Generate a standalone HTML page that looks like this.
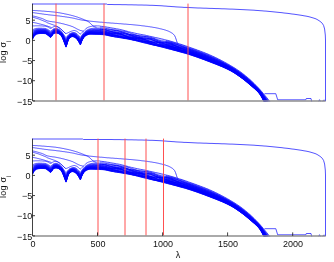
<!DOCTYPE html>
<html><head><meta charset="utf-8"><style>
html,body{margin:0;padding:0;background:#fff;}
svg{display:block;font-family:"Liberation Sans",sans-serif;font-size:9px;fill:#111;}
path{fill:none;}
.b{stroke:#0000ff;stroke-width:0.75;stroke-opacity:0.9;}
.bb path{stroke:#0000ff;stroke-width:0.65;}
.r{stroke:#ff5050;stroke-width:1;}
.ax{stroke:#111;stroke-width:0.8;}
.axb{stroke:#8e8e8e;stroke-width:1.4;}
</style></head><body>
<svg width="334" height="262" viewBox="0 0 334 262">
<defs>
<clipPath id="cp"><rect x="32" y="3" width="294.2" height="98.6"/></clipPath>
<g id="pl">
<g clip-path="url(#cp)">
<path d="M108 4.5L110 4.5L112 4.5L114 4.6L116 4.6L118 4.6L120 4.6L122 4.7L124 4.7L126 4.7L128 4.8L130 4.8L132 4.8L134 4.9L136 4.9L138 5.0L140 5.0L142 5.0L144 5.1L146 5.1L148 5.2L150 5.3L152 5.3L154 5.4L156 5.5L158 5.6L160 5.7L162 5.8L164 6.0L166 6.1L168 6.3L170 6.4L172 6.6L174 6.7L176 6.9L178 7.0L180 7.1L182 7.2L184 7.4L186 7.4L188 7.5L190 7.6L192 7.7L194 7.8L196 7.9L198 8.0L200 8.0L202 8.1L204 8.2L206 8.2L208 8.3L210 8.4L212 8.4L214 8.5L216 8.6L218 8.6L220 8.7L222 8.8L224 8.8L226 8.9L228 9.0L230 9.1L232 9.1L234 9.2L236 9.3L238 9.4L240 9.5L242 9.6L244 9.7L246 9.8L248 9.9L250 10.0L252 10.1L254 10.2L256 10.4L258 10.5L260 10.7L262 10.8L264 11.0L266 11.1L268 11.3L270 11.5L272 11.7L274 11.9L276 12.1L278 12.3L280 12.5L282 12.7L284 13.0L286 13.2L288 13.4L290 13.7L292 14.0L294 14.2L296 14.5L298 14.8L300 15.1L302 15.4L304 15.8L306 16.1L308 16.5L310 17.0L312 17.6L314 18.2L316 18.9L318 20.0L320 21.3L322.2 23.2L323.6 25.5L324.6 29L325.3 35L325.5 40L325.5 101.3" class="b"/>
<path d="M32.5 10.4L33.5 10.5L34.5 10.5L35.5 10.6L36.5 10.6L37.5 10.7L38.5 10.8L39.5 10.8L40.5 10.9L41.5 11.0L42.5 11.1L43.5 11.1L44.5 11.2L45.5 11.3L46.5 11.4L47.5 11.5L48.5 11.5L49.5 11.6L50.5 11.7L51.5 11.8L52.5 11.9L53.5 12.0L54.5 12.1L55.5 12.2L56.5 12.4L57.5 12.5L58.5 12.7L59.5 12.8L60.5 13.0L61.5 13.2L62.5 13.4L63.5 13.5L64.5 13.8L65.5 14.0L66.5 14.2L67.5 14.4L68.5 14.6L69.5 14.9L70.5 15.1L71.5 15.4L72.5 15.6L73.5 15.9L74.5 16.2L75.5 16.5L76.5 16.8L77.5 17.1L78.5 17.5L79.5 17.9L80.5 18.2L81.5 18.6L82.5 19.0L83.5 19.4L84.5 19.8L85.5 20.2L86.5 20.7L87.5 21.2L88.5 21.8L89.5 22.6L90.5 23.5L91.5 24.5L92.5 25.4L93.5 26.2L94.5 26.7L95.5 27.0L96.5 27.2" class="b"/>
<path d="M32.5 12.5L33.5 12.7L34.5 12.8L35.5 13.0L36.5 13.1L37.5 13.3L38.5 13.4L39.5 13.6L40.5 13.7L41.5 13.8L42.5 14.0L43.5 14.1L44.5 14.3L45.5 14.4L46.5 14.5L47.5 14.6L48.5 14.8L49.5 14.9L50.5 15.0L51.5 15.1L52.5 15.2L53.5 15.3L54.5 15.4L55.5 15.5L56.5 15.7L57.5 15.8L58.5 15.9L59.5 16.0L60.5 16.2L61.5 16.3L62.5 16.5L63.5 16.6L64.5 16.7L65.5 16.9L66.5 17.0L67.5 17.2L68.5 17.3L69.5 17.5L70.5 17.7L71.5 17.8L72.5 18.0L73.5 18.2L74.5 18.4L75.5 18.7L76.5 18.9L77.5 19.2L78.5 19.4L79.5 19.6L80.5 19.8L81.5 20.0L82.5 20.2L83.5 20.3L84.5 20.5L85.5 20.6L86.5 20.7L87.5 20.8L88.5 20.9L89.5 21.1L90.5 21.2L91.5 21.3L92.5 21.4L93.5 21.5L94.5 21.6L95.5 21.7L96.5 21.8L97.5 21.9L98.5 22.0L99.5 22.1L100.5 22.2L101.5 22.2L102.5 22.3L103.5 22.4L104.5 22.5L105.5 22.6L106.5 22.7L107.5 22.8L108.5 22.8L109.5 22.9L110.5 23.0L111.5 23.1L112.5 23.1L113.5 23.2L114.5 23.3L115.5 23.4L116.5 23.4L117.5 23.5L118.5 23.6L119.5 23.7L120.5 23.7L121.5 23.8L122.5 23.9L123.5 24.0L124.5 24.1L125.5 24.1L126.5 24.2L127.5 24.3L128.5 24.4L129.5 24.5L130.5 24.5L131.5 24.6L132.5 24.7L133.5 24.8L134.5 24.9L135.5 25.0L136.5 25.1L137.5 25.2L138.5 25.3L139.5 25.4L140.5 25.5L141.5 25.7L142.5 25.8L143.5 25.9L144.5 26.0L145.5 26.2L146.5 26.3L147.5 26.4L148.5 26.6L149.5 26.7L150.5 26.9L151.5 27.0L152.5 27.2L153.5 27.4L154.5 27.5L155.5 27.7L156.5 27.9L157.5 28.1L158.5 28.3L159.5 28.6L160.5 28.8L161.5 29.0L162.5 29.3L163.5 29.5L164.5 29.8L165.5 30.1L166.5 30.5L167.5 30.8L168.5 31.2L169.5 31.7L170.5 32.2L171.5 32.8L172.5 33.4L173.5 34.3L174.5 35.4L175.5 37.5L176.5 40.5L177.5 43.7" class="b"/>
<path d="M32.5 15.9L33.5 16.1L34.5 16.3L35.5 16.6L36.5 16.8L37.5 17.1L38.5 17.4L39.5 17.7L40.5 18.0L41.5 18.3L42.5 18.7L43.5 19.1L44.5 19.6L45.5 20.1L46.5 20.5L47.5 20.9L48.5 21.1L49.5 21.3L50.5 21.5L51.5 21.6L52.5 21.8L53.5 21.9L54.5 22.0L55.5 22.2L56.5 22.4L57.5 22.6L58.5 22.8L59.5 23.0L60.5 23.2L61.5 23.5L62.5 23.7L63.5 23.9L64.5 24.2L65.5 24.5L66.5 24.7L67.5 25.0L68.5 25.3L69.5 25.6L70.5 25.9L71.5 26.3L72.5 26.6L73.5 27.1L74.5 27.6L75.5 28.1L76.5 28.7L77.5 29.2L78.5 29.7L79.5 30.1L80.5 30.5L81.5 30.7L82.5 31.0L83.5 31.2" class="b"/>
<path d="M32.5 17.2L33.5 17.4L34.5 17.7L35.5 18.0L36.5 18.3L37.5 18.6L38.5 18.9L39.5 19.3L40.5 19.7L41.5 20.1L42.5 20.5L43.5 20.9L44.5 21.3L45.5 21.7L46.5 22.2L47.5 22.8L48.5 23.2L49.5 23.6L50.5 23.9L51.5 24.3L52.5 24.6L53.5 25.0L54.5 25.3L55.5 25.8L56.5 26.3L57.5 26.8L58.5 27.5L59.5 28.2L60.5 29.0L61.5 29.8L62.5 30.6L63.5 31.5L64.5 32.5L65.5 33.5" class="b"/>
<path d="M32.5 22.3L33.5 22.5L34.5 22.7L35.5 22.9L36.5 23.1L37.5 23.4L38.5 23.6L39.5 23.9L40.5 24.1L41.5 24.4L42.5 24.6L43.5 24.9L44.5 25.2L45.5 25.5L46.5 25.8L47.5 26.1L48.5 26.5L49.5 26.8L50.5 27.2L51.5 27.6" class="b"/>
<path d="M264.5 93.7L275.8 93.7L277.7 99.8L305.8 99.8L306.3 98.5L311 98.5L311.8 102M318.6 101.6L319.5 99.7L320.5 101.6M322.8 101.6L323.3 100.3L325.5 100.3" class="b"/>
<path d="M100 26.1L102 26.3L104 26.6L106 26.9L108 27.2L110 27.6L112 28.0L114 28.3L116 28.7L118 29.0L120 29.4L122 29.8L124 30.3L126 30.8L128 31.4L130 32.0L132 32.5L134 32.9L136 33.4L138 33.8L140 34.2L142 34.6L144 34.9L146 35.3L148 35.8L150 36.2L152 36.6L154 37.1L156 37.6L158 38.0L160 38.5L162 39.0L164 39.5L166 40.0L166 48.2L164 47.7L162 47.2L160 46.7L158 46.2L156 45.7L154 45.3L152 44.8L150 44.3L148 43.8L146 43.3L144 42.8L142 42.3L140 41.8L138 41.3L136 40.8L134 40.3L132 39.9L130 39.5L128 39.1L126 38.8L124 38.5L122 38.2L120 37.8L118 37.5L116 37.1L114 36.7L112 36.4L110 36.0L108 35.6L106 35.1L104 34.8L102 34.7L100 34.6Z" fill="#0000ff" fill-opacity="0.22" stroke="none" style="fill:#0000ff"/>
<path d="M166 40.0L168 40.5L170 41.0L172 41.6L174 42.1L176 42.7L178 43.4L180 44.0L182 44.6L184 45.3L186 46.0L188 46.7L190 47.4L192 48.1L194 48.8L196 49.5L198 50.3L200 51.0L202 51.8L204 52.5L206 53.3L208 54.1L210 55.0L212 55.9L214 56.8L216 57.8L218 58.7L220 59.7L222 60.8L224 61.9L226 62.9L228 64.1L230 65.2L232 66.4L234 67.6L236 68.9L238 70.2L240 71.6L242 73.1L244 74.6L246 76.2L248 77.9L250 79.6L252 81.4L254 83.4L256 85.4L258 87.4L260 89.6L262 91.9L264 94.3L266 96.7L268 99.2L270 101.8L272 104.5L272 118.6L270 114.4L268 110.2L266 106.0L264 101.8L262 97.8L260 94.5L258 92.1L256 90.1L254 88.3L252 86.6L250 84.9L248 83.2L246 81.5L244 79.9L242 78.4L240 76.9L238 75.5L236 74.1L234 72.8L232 71.6L230 70.5L228 69.5L226 68.5L224 67.6L222 66.7L220 65.9L218 65.1L216 64.3L214 63.5L212 62.8L210 62.0L208 61.2L206 60.5L204 59.7L202 59.0L200 58.3L198 57.5L196 56.8L194 56.2L192 55.5L190 54.8L188 54.2L186 53.6L184 53.0L182 52.5L180 51.9L178 51.3L176 50.8L174 50.3L172 49.7L170 49.2L168 48.7L166 48.2Z" fill="#0000ff" fill-opacity="0.6" stroke="none" style="fill:#0000ff"/>
<g class="bb">
<path d="M32.5 26.0L33 26.0L33.5 25.9L34 25.9L34.5 25.9L35 25.9L35.5 25.8L36 25.8L36.5 25.8L37 25.8L37.5 25.8L38 25.8L38.5 25.8L39 25.8L39.5 25.8L40 25.8L40.5 25.9L41 25.9L41.5 25.9L42 25.9L42.5 26.0L43 26.0L43.5 26.1L44 26.1L44.5 26.1L45 26.2L45.5 26.3L46 26.4L46.5 26.5L47 26.7L47.5 26.8L48 27.0L48.5 27.3L49 27.6L49.5 28.0L50 28.3L50.5 28.4L51 28.3L51.5 28.0L52 27.6L52.5 27.3L53 27.0L53.5 26.8L54 26.7L54.5 26.5L55 26.4L55.5 26.3L56 26.3L56.5 26.4L57 26.5L57.5 26.7L58 26.9L58.5 27.2L59 27.5L59.5 27.8L60 28.2L60.5 28.6L61 29.1L61.5 29.5L62 30.0L62.5 30.5L63 31.0L63.5 31.6L64 32.1L64.5 32.5L65 32.9L65.5 33.3L66 33.5L66.5 33.4L67 33.2L67.5 33.0L68 32.8L68.5 32.5L69 32.2L69.5 32.0L70 31.7L70.5 31.5L71 31.3L71.5 31.2L72 31.0L72.5 30.9L73 30.7L73.5 30.6L74 30.5L74.5 30.5L75 30.6L75.5 30.8L76 31.0L76.5 31.2L77 31.5L77.5 31.8L78 32.2L78.5 32.6L79 33.1L79.5 33.6L80 33.9L80.4 34.0L80.5 34.0L81 33.6L81.5 33.1L82 32.6L82.5 32.1L83 31.6L83.5 31.1L84 30.5L84.5 30.0L85 29.5L85.5 29.1L86 28.6L86.5 28.2L87 27.9L87.5 27.6L88 27.4L88.5 27.1L89 26.9L89.5 26.8L90 26.6L90.5 26.5L91 26.4L91.5 26.3L92 26.2L92.5 26.1L93 26.0L93.5 26.0L94 25.9L94.5 25.9L95 25.8L95.5 25.8L96 25.8L96.5 25.8L97 25.8L97.5 25.9L98 25.9L98.5 25.9L99 26.0L99.5 26.0L100 26.1L101.5 26.3L103 26.5L104.5 26.7L106 26.9L107.5 27.2L109 27.4L110.5 27.7L112 28.0L113.5 28.2L115 28.5L116.5 28.8L118 29.0L119.5 29.3L121 29.7L122.5 30.0L124 30.4L125.5 30.8L127 31.2L128.5 31.7L130 32.0L131.5 32.4L133 32.7L134.5 33.0L136 33.4L137.5 33.7L139 34.0L140.5 34.3L142 34.6L143.5 34.8L145 35.1L146.5 35.5L148 35.8L149.5 36.2L151 36.5L152.5 36.8L154 37.2L155.5 37.5L157 37.8L158.5 38.1L160 38.5L161.5 38.8L163 39.2L164.5 39.6L166 40.0L167.5 40.3L169 40.7L170.5 41.1L172 41.6L173.5 42.0L175 42.5L176.5 42.9L178 43.4L179.5 43.9L181 44.3L182.5 44.8L184 45.3L185.5 45.8L187 46.3L188.5 46.9L190 47.4L191.5 47.9L193 48.5L194.5 49.0L196 49.5L197.5 50.1L199 50.6L200.5 51.2L202 51.8L203.5 52.3L205 52.9L206.5 53.5L208 54.1L209.5 54.8L211 55.4L212.5 56.1L214 56.8L215.5 57.5L217 58.2L218.5 59.0L220 59.7L221.5 60.5L223 61.3L224.5 62.1L226 62.9L227.5 63.8L229 64.6L230.5 65.5L232 66.4L233.5 67.3L235 68.2L236.5 69.2L238 70.2L239.5 71.2L241 72.3L242.5 73.4L244 74.6L245.5 75.8L247 77.0L248.5 78.3L250 79.6L251.5 81.0L253 82.4L254.5 83.8L256 85.4L257.5 86.9L259 88.5L260.5 90.2L262 91.9L263.5 93.7L265 95.5L266.5 97.3L268 99.2L269.5 101.1L271 103.1"/>
<path d="M32.5 30.0L33 29.7L33.5 29.4L34 29.1L34.5 28.9L35 28.7L35.5 28.6L36 28.5L36.5 28.4L37 28.3L37.5 28.3L38 28.2L38.5 28.2L39 28.2L39.5 28.2L40 28.2L40.5 28.2L41 28.2L41.5 28.2L42 28.2L42.5 28.3L43 28.3L43.5 28.3L44 28.4L44.5 28.4L45 28.4L45.5 28.5L46 28.7L46.5 28.9L47 29.1L47.5 29.3L48 29.5L48.5 29.9L49 30.2L49.5 30.6L50 31.0L50.5 31.2L51 31.0L51.5 30.6L52 30.1L52.5 29.6L53 29.2L53.5 28.9L54 28.7L54.5 28.6L55 28.4L55.5 28.4L56 28.3L56.5 28.4L57 28.5L57.5 28.7L58 28.9L58.5 29.2L59 29.4L59.5 29.7L60 30.1L60.5 30.6L61 31.0L61.5 31.6L62 32.1L62.5 32.8L63 33.5L63.5 34.3L64 35.0L64.5 35.7L65 36.4L65.5 37.1L66 37.7L66.5 37.2L67 36.5L67.5 35.9L68 35.2L68.5 34.7L69 34.2L69.5 33.8L70 33.5L70.5 33.3L71 33.1L71.5 32.9L72 32.7L72.5 32.6L73 32.5L73.5 32.5L74 32.5L74.5 32.5L75 32.7L75.5 32.9L76 33.2L76.5 33.5L77 33.9L77.5 34.3L78 34.8L78.5 35.3L79 35.9L79.5 36.5L80 37.0L80.4 37.3L80.5 37.2L81 36.5L81.5 35.7L82 35.1L82.5 34.4L83 33.8L83.5 33.2L84 32.6L84.5 32.0L85 31.5L85.5 31.1L86 30.7L86.5 30.4L87 30.1L87.5 29.8L88 29.6L88.5 29.3L89 29.1L89.5 29.0L90 28.8L90.5 28.7L91 28.6L91.5 28.5L92 28.4L92.5 28.4L93 28.3L93.5 28.2L94 28.2L94.5 28.1L95 28.1L95.5 28.0L96 28.0L96.5 28.0L97 28.0L97.5 28.0L98 28.0L98.5 28.0L99 28.0L99.5 28.0L100 28.0L101.5 28.0L103 28.1L104.5 28.2L106 28.4L107.5 28.7L109 29.0L110.5 29.4L112 29.8L113.5 30.2L115 30.6L116.5 30.8L118 30.9L119.5 31.0L121 31.1L122.5 31.2L124 31.3L125.5 31.6L127 32.0L128.5 32.5L130 33.0L131.5 33.6L133 34.1L134.5 34.6L136 35.1L137.5 35.5L139 35.8L140.5 36.0L142 36.2L143.5 36.3L145 36.4L146.5 36.5L148 36.7L149.5 37.0L151 37.3L152.5 37.8L154 38.3L155.5 38.9L157 39.5L158.5 40.0L160 40.5L161.5 40.9L163 41.1L164.5 41.4L166 41.6L167.5 41.8L169 42.0L170.5 42.3L172 42.7L173.5 43.1L175 43.6L176.5 44.2L178 44.7L179.5 45.3L181 45.8L182.5 46.4L184 46.9L185.5 47.3L187 47.8L188.5 48.3L190 48.7L191.5 49.2L193 49.8L194.5 50.3L196 50.8L197.5 51.4L199 51.9L200.5 52.5L202 53.0L203.5 53.6L205 54.2L206.5 54.8L208 55.4L209.5 56.0L211 56.7L212.5 57.3L214 58.0L215.5 58.7L217 59.4L218.5 60.1L220 60.8L221.5 61.6L223 62.4L224.5 63.1L226 63.9L227.5 64.8L229 65.6L230.5 66.4L232 67.3L233.5 68.2L235 69.2L236.5 70.1L238 71.1L239.5 72.2L241 73.3L242.5 74.4L244 75.5L245.5 76.7L247 78.0L248.5 79.2L250 80.5L251.5 81.9L253 83.3L254.5 84.7L256 86.2L257.5 87.7L259 89.4L260.5 91.1L262 92.9L263.5 94.9L265 97.0L266.5 99.1L268 101.2L269.5 103.3L271 105.5"/>
<path d="M32.5 31.3L33 30.8L33.5 30.4L34 30.1L34.5 29.8L35 29.6L35.5 29.4L36 29.2L36.5 29.1L37 29.0L37.5 29.0L38 29.0L38.5 28.9L39 28.9L39.5 28.9L40 28.9L40.5 28.9L41 28.9L41.5 28.9L42 28.9L42.5 29.0L43 29.0L43.5 29.0L44 29.0L44.5 29.1L45 29.1L45.5 29.2L46 29.4L46.5 29.6L47 29.8L47.5 30.1L48 30.3L48.5 30.6L49 31.0L49.5 31.4L50 31.8L50.5 32.0L51 31.8L51.5 31.4L52 30.9L52.5 30.3L53 29.9L53.5 29.5L54 29.3L54.5 29.2L55 29.1L55.5 29.0L56 28.9L56.5 29.0L57 29.1L57.5 29.3L58 29.5L58.5 29.7L59 30.0L59.5 30.3L60 30.7L60.5 31.1L61 31.6L61.5 32.2L62 32.8L62.5 33.5L63 34.2L63.5 35.1L64 35.9L64.5 36.7L65 37.5L65.5 38.3L66 38.9L66.5 38.3L67 37.6L67.5 36.7L68 35.9L68.5 35.4L69 34.8L69.5 34.4L70 34.1L70.5 33.8L71 33.6L71.5 33.4L72 33.2L72.5 33.1L73 33.1L73.5 33.0L74 33.1L74.5 33.2L75 33.3L75.5 33.6L76 33.9L76.5 34.2L77 34.6L77.5 35.1L78 35.6L78.5 36.1L79 36.8L79.5 37.4L80 38.0L80.4 38.3L80.5 38.2L81 37.4L81.5 36.5L82 35.8L82.5 35.1L83 34.4L83.5 33.8L84 33.2L84.5 32.6L85 32.2L85.5 31.7L86 31.4L86.5 31.0L87 30.7L87.5 30.4L88 30.2L88.5 30.0L89 29.8L89.5 29.6L90 29.5L90.5 29.4L91 29.3L91.5 29.2L92 29.2L92.5 29.1L93 29.0L93.5 29.0L94 28.9L94.5 28.9L95 28.8L95.5 28.8L96 28.8L96.5 28.8L97 28.8L97.5 28.8L98 28.8L98.5 28.9L99 28.9L99.5 29.0L100 29.0L101.5 29.1L103 29.3L104.5 29.4L106 29.5L107.5 29.6L109 29.7L110.5 29.8L112 29.8L113.5 29.8L115 30.0L116.5 30.2L118 30.6L119.5 31.0L121 31.4L122.5 31.9L124 32.5L125.5 33.0L127 33.6L128.5 34.1L130 34.6L131.5 34.9L133 35.2L134.5 35.5L136 35.7L137.5 35.8L139 35.9L140.5 36.0L142 36.2L143.5 36.3L145 36.5L146.5 36.8L148 37.2L149.5 37.6L151 38.1L152.5 38.7L154 39.2L155.5 39.8L157 40.4L158.5 40.9L160 41.3L161.5 41.7L163 42.0L164.5 42.2L166 42.4L167.5 42.7L169 42.9L170.5 43.1L172 43.4L173.5 43.8L175 44.2L176.5 44.6L178 45.1L179.5 45.7L181 46.2L182.5 46.8L184 47.3L185.5 47.9L187 48.4L188.5 48.9L190 49.4L191.5 49.9L193 50.4L194.5 50.9L196 51.4L197.5 52.0L199 52.5L200.5 53.1L202 53.6L203.5 54.2L205 54.8L206.5 55.4L208 56.0L209.5 56.6L211 57.3L212.5 57.9L214 58.6L215.5 59.2L217 59.9L218.5 60.6L220 61.4L221.5 62.1L223 62.8L224.5 63.6L226 64.4L227.5 65.2L229 66.0L230.5 66.9L232 67.7L233.5 68.7L235 69.6L236.5 70.6L238 71.6L239.5 72.6L241 73.7L242.5 74.8L244 76.0L245.5 77.2L247 78.4L248.5 79.7L250 81.0L251.5 82.3L253 83.7L254.5 85.1L256 86.6L257.5 88.1L259 89.7L260.5 91.5L262 93.4L263.5 95.5L265 97.7L266.5 99.9L268 102.1L269.5 104.3L271 106.6"/>
<path d="M32.5 32.1L33 31.6L33.5 31.1L34 30.8L34.5 30.5L35 30.2L35.5 30.0L36 29.8L36.5 29.7L37 29.6L37.5 29.5L38 29.5L38.5 29.4L39 29.4L39.5 29.4L40 29.4L40.5 29.4L41 29.4L41.5 29.4L42 29.4L42.5 29.5L43 29.5L43.5 29.5L44 29.5L44.5 29.6L45 29.6L45.5 29.7L46 29.9L46.5 30.1L47 30.3L47.5 30.6L48 30.9L48.5 31.2L49 31.6L49.5 32.0L50 32.4L50.5 32.6L51 32.4L51.5 31.9L52 31.4L52.5 30.9L53 30.3L53.5 30.0L54 29.8L54.5 29.6L55 29.5L55.5 29.4L56 29.4L56.5 29.4L57 29.5L57.5 29.7L58 29.9L58.5 30.2L59 30.4L59.5 30.7L60 31.1L60.5 31.6L61 32.0L61.5 32.6L62 33.2L62.5 34.0L63 34.8L63.5 35.7L64 36.5L64.5 37.4L65 38.2L65.5 39.1L66 39.8L66.5 39.1L67 38.3L67.5 37.3L68 36.5L68.5 35.8L69 35.3L69.5 34.8L70 34.5L70.5 34.2L71 33.9L71.5 33.8L72 33.6L72.5 33.5L73 33.5L73.5 33.4L74 33.5L74.5 33.6L75 33.8L75.5 34.0L76 34.4L76.5 34.7L77 35.1L77.5 35.6L78 36.1L78.5 36.7L79 37.4L79.5 38.0L80 38.7L80.4 39.1L80.5 38.9L81 38.0L81.5 37.1L82 36.3L82.5 35.6L83 34.9L83.5 34.3L84 33.7L84.5 33.1L85 32.6L85.5 32.2L86 31.8L86.5 31.5L87 31.2L87.5 30.9L88 30.7L88.5 30.5L89 30.3L89.5 30.1L90 30.0L90.5 29.9L91 29.8L91.5 29.8L92 29.7L92.5 29.6L93 29.6L93.5 29.5L94 29.5L94.5 29.4L95 29.4L95.5 29.4L96 29.3L96.5 29.3L97 29.3L97.5 29.3L98 29.2L98.5 29.2L99 29.2L99.5 29.2L100 29.2L101.5 29.3L103 29.4L104.5 29.7L106 30.1L107.5 30.5L109 30.9L110.5 31.0L112 31.0L113.5 30.8L115 30.7L116.5 30.7L118 31.0L119.5 31.5L121 32.1L122.5 32.8L124 33.5L125.5 34.1L127 34.4L128.5 34.6L130 34.6L131.5 34.6L133 34.6L134.5 34.7L136 35.1L137.5 35.6L139 36.3L140.5 37.0L142 37.6L143.5 38.1L145 38.5L146.5 38.6L148 38.5L149.5 38.4L151 38.5L152.5 38.6L154 39.0L155.5 39.6L157 40.4L158.5 41.1L160 41.8L161.5 42.3L163 42.6L164.5 42.7L166 42.7L167.5 42.7L169 42.9L170.5 43.2L172 43.8L173.5 44.4L175 45.1L176.5 45.7L178 46.3L179.5 46.8L181 47.1L182.5 47.5L184 47.8L185.5 48.2L187 48.7L188.5 49.2L190 49.7L191.5 50.3L193 50.9L194.5 51.4L196 51.9L197.5 52.5L199 53.0L200.5 53.5L202 54.1L203.5 54.7L205 55.3L206.5 55.9L208 56.5L209.5 57.1L211 57.7L212.5 58.3L214 59.0L215.5 59.7L217 60.4L218.5 61.0L220 61.8L221.5 62.5L223 63.2L224.5 64.0L226 64.8L227.5 65.6L229 66.4L230.5 67.2L232 68.1L233.5 69.0L235 69.9L236.5 70.9L238 71.9L239.5 73.0L241 74.0L242.5 75.2L244 76.3L245.5 77.5L247 78.7L248.5 80.0L250 81.3L251.5 82.7L253 84.0L254.5 85.4L256 86.9L257.5 88.4L259 90.1L260.5 91.8L262 93.8L263.5 96.0L265 98.2L266.5 100.5L268 102.8L269.5 105.1L271 107.5"/>
<path d="M32.5 32.8L33 32.3L33.5 31.8L34 31.4L34.5 31.0L35 30.7L35.5 30.5L36 30.3L36.5 30.1L37 30.0L37.5 30.0L38 29.9L38.5 29.9L39 29.8L39.5 29.8L40 29.8L40.5 29.8L41 29.8L41.5 29.8L42 29.8L42.5 29.9L43 29.9L43.5 29.9L44 29.9L44.5 30.0L45 30.0L45.5 30.1L46 30.3L46.5 30.5L47 30.8L47.5 31.0L48 31.3L48.5 31.6L49 32.0L49.5 32.5L50 32.8L50.5 33.1L51 32.8L51.5 32.4L52 31.9L52.5 31.3L53 30.7L53.5 30.3L54 30.1L54.5 30.0L55 29.9L55.5 29.8L56 29.7L56.5 29.8L57 29.9L57.5 30.1L58 30.3L58.5 30.5L59 30.8L59.5 31.1L60 31.5L60.5 31.9L61 32.4L61.5 33.0L62 33.6L62.5 34.4L63 35.2L63.5 36.1L64 37.1L64.5 37.9L65 38.9L65.5 39.8L66 40.5L66.5 39.7L67 38.9L67.5 37.8L68 36.9L68.5 36.2L69 35.6L69.5 35.2L70 34.8L70.5 34.5L71 34.3L71.5 34.1L72 33.9L72.5 33.8L73 33.8L73.5 33.8L74 33.8L74.5 34.0L75 34.1L75.5 34.4L76 34.7L76.5 35.1L77 35.5L77.5 36.0L78 36.6L78.5 37.2L79 37.9L79.5 38.6L80 39.2L80.4 39.7L80.5 39.5L81 38.5L81.5 37.6L82 36.8L82.5 36.0L83 35.3L83.5 34.6L84 34.0L84.5 33.5L85 33.0L85.5 32.6L86 32.2L86.5 31.8L87 31.5L87.5 31.3L88 31.1L88.5 30.9L89 30.7L89.5 30.5L90 30.4L90.5 30.3L91 30.3L91.5 30.2L92 30.1L92.5 30.1L93 30.0L93.5 30.0L94 29.9L94.5 29.9L95 29.9L95.5 29.9L96 29.8L96.5 29.8L97 29.8L97.5 29.8L98 29.8L98.5 29.8L99 29.8L99.5 29.7L100 29.7L101.5 29.7L103 29.7L104.5 29.8L106 30.0L107.5 30.4L109 30.9L110.5 31.3L112 31.8L113.5 32.2L115 32.5L116.5 32.6L118 32.6L119.5 32.5L121 32.5L122.5 32.5L124 32.6L125.5 33.0L127 33.5L128.5 34.1L130 34.8L131.5 35.4L133 36.0L134.5 36.5L136 36.9L137.5 37.2L139 37.3L140.5 37.4L142 37.4L143.5 37.4L145 37.5L146.5 37.7L148 38.1L149.5 38.6L151 39.2L152.5 39.9L154 40.6L155.5 41.2L157 41.7L158.5 42.1L160 42.3L161.5 42.4L163 42.4L164.5 42.5L166 42.6L167.5 42.9L169 43.3L170.5 43.8L172 44.3L173.5 45.0L175 45.6L176.5 46.2L178 46.8L179.5 47.2L181 47.6L182.5 48.0L184 48.3L185.5 48.7L187 49.2L188.5 49.6L190 50.1L191.5 50.7L193 51.2L194.5 51.8L196 52.3L197.5 52.9L199 53.4L200.5 54.0L202 54.5L203.5 55.1L205 55.7L206.5 56.3L208 56.9L209.5 57.5L211 58.1L212.5 58.7L214 59.4L215.5 60.0L217 60.7L218.5 61.4L220 62.1L221.5 62.8L223 63.6L224.5 64.3L226 65.1L227.5 65.9L229 66.7L230.5 67.5L232 68.4L233.5 69.3L235 70.2L236.5 71.2L238 72.2L239.5 73.3L241 74.3L242.5 75.5L244 76.6L245.5 77.8L247 79.0L248.5 80.3L250 81.6L251.5 83.0L253 84.3L254.5 85.7L256 87.2L257.5 88.7L259 90.3L260.5 92.1L262 94.2L263.5 96.4L265 98.7L266.5 101.0L268 103.4L269.5 105.8L271 108.2"/>
<path d="M32.5 33.4L33 32.8L33.5 32.3L34 31.8L34.5 31.5L35 31.2L35.5 30.9L36 30.7L36.5 30.5L37 30.4L37.5 30.3L38 30.3L38.5 30.2L39 30.2L39.5 30.2L40 30.1L40.5 30.1L41 30.1L41.5 30.2L42 30.2L42.5 30.2L43 30.2L43.5 30.2L44 30.3L44.5 30.3L45 30.3L45.5 30.4L46 30.6L46.5 30.9L47 31.1L47.5 31.4L48 31.7L48.5 32.0L49 32.4L49.5 32.9L50 33.2L50.5 33.6L51 33.2L51.5 32.8L52 32.3L52.5 31.6L53 31.0L53.5 30.7L54 30.5L54.5 30.3L55 30.2L55.5 30.1L56 30.1L56.5 30.1L57 30.2L57.5 30.4L58 30.6L58.5 30.8L59 31.0L59.5 31.4L60 31.7L60.5 32.2L61 32.7L61.5 33.3L62 33.9L62.5 34.7L63 35.6L63.5 36.5L64 37.5L64.5 38.4L65 39.4L65.5 40.3L66 41.2L66.5 40.3L67 39.4L67.5 38.3L68 37.2L68.5 36.5L69 36.0L69.5 35.4L70 35.0L70.5 34.7L71 34.5L71.5 34.3L72 34.2L72.5 34.1L73 34.0L73.5 34.1L74 34.1L74.5 34.3L75 34.5L75.5 34.7L76 35.1L76.5 35.5L77 35.9L77.5 36.4L78 37.0L78.5 37.6L79 38.3L79.5 39.0L80 39.7L80.4 40.2L80.5 40.0L81 38.9L81.5 38.0L82 37.1L82.5 36.4L83 35.6L83.5 34.9L84 34.3L84.5 33.8L85 33.3L85.5 32.9L86 32.5L86.5 32.2L87 31.9L87.5 31.6L88 31.4L88.5 31.2L89 31.0L89.5 30.9L90 30.8L90.5 30.7L91 30.6L91.5 30.6L92 30.5L92.5 30.5L93 30.4L93.5 30.4L94 30.3L94.5 30.3L95 30.3L95.5 30.3L96 30.3L96.5 30.3L97 30.3L97.5 30.3L98 30.3L98.5 30.3L99 30.3L99.5 30.2L100 30.2L101.5 30.2L103 30.1L104.5 30.1L106 30.3L107.5 30.6L109 31.0L110.5 31.4L112 31.9L113.5 32.5L115 32.9L116.5 33.2L118 33.4L119.5 33.4L121 33.4L122.5 33.3L124 33.3L125.5 33.5L127 33.7L128.5 34.2L130 34.7L131.5 35.3L133 36.0L134.5 36.6L136 37.2L137.5 37.6L139 38.0L140.5 38.2L142 38.3L143.5 38.3L145 38.3L146.5 38.3L148 38.5L149.5 38.8L151 39.2L152.5 39.8L154 40.4L155.5 41.1L157 41.8L158.5 42.4L160 42.9L161.5 43.2L163 43.3L164.5 43.4L166 43.5L167.5 43.6L169 43.8L170.5 44.1L172 44.6L173.5 45.1L175 45.7L176.5 46.3L178 46.9L179.5 47.5L181 48.0L182.5 48.5L184 48.9L185.5 49.3L187 49.7L188.5 50.1L190 50.6L191.5 51.1L193 51.6L194.5 52.2L196 52.7L197.5 53.2L199 53.8L200.5 54.3L202 54.9L203.5 55.4L205 56.0L206.5 56.6L208 57.2L209.5 57.8L211 58.4L212.5 59.1L214 59.7L215.5 60.4L217 61.0L218.5 61.7L220 62.4L221.5 63.1L223 63.8L224.5 64.6L226 65.4L227.5 66.1L229 66.9L230.5 67.8L232 68.6L233.5 69.5L235 70.5L236.5 71.5L238 72.5L239.5 73.5L241 74.6L242.5 75.7L244 76.9L245.5 78.1L247 79.3L248.5 80.6L250 81.9L251.5 83.2L253 84.6L254.5 85.9L256 87.4L257.5 88.9L259 90.6L260.5 92.3L262 94.5L263.5 96.8L265 99.1L266.5 101.5L268 104.0L269.5 106.4L271 108.9"/>
<path d="M32.5 34.0L33 33.3L33.5 32.7L34 32.3L34.5 31.9L35 31.6L35.5 31.3L36 31.0L36.5 30.8L37 30.7L37.5 30.7L38 30.6L38.5 30.5L39 30.5L39.5 30.5L40 30.5L40.5 30.4L41 30.5L41.5 30.5L42 30.5L42.5 30.5L43 30.5L43.5 30.5L44 30.6L44.5 30.6L45 30.6L45.5 30.7L46 30.9L46.5 31.2L47 31.4L47.5 31.7L48 32.0L48.5 32.4L49 32.8L49.5 33.2L50 33.6L50.5 33.9L51 33.6L51.5 33.1L52 32.6L52.5 31.9L53 31.3L53.5 30.9L54 30.7L54.5 30.6L55 30.4L55.5 30.4L56 30.3L56.5 30.4L57 30.5L57.5 30.6L58 30.8L58.5 31.1L59 31.3L59.5 31.6L60 32.0L60.5 32.4L61 32.9L61.5 33.5L62 34.2L62.5 35.0L63 35.9L63.5 36.9L64 37.9L64.5 38.9L65 39.8L65.5 40.8L66 41.7L66.5 40.8L67 39.8L67.5 38.6L68 37.6L68.5 36.8L69 36.2L69.5 35.7L70 35.3L70.5 35.0L71 34.7L71.5 34.5L72 34.4L72.5 34.3L73 34.3L73.5 34.3L74 34.4L74.5 34.5L75 34.7L75.5 35.0L76 35.4L76.5 35.8L77 36.2L77.5 36.7L78 37.3L78.5 37.9L79 38.7L79.5 39.4L80 40.1L80.4 40.6L80.5 40.4L81 39.3L81.5 38.3L82 37.5L82.5 36.7L83 35.9L83.5 35.2L84 34.6L84.5 34.0L85 33.5L85.5 33.1L86 32.8L86.5 32.4L87 32.2L87.5 31.9L88 31.7L88.5 31.5L89 31.3L89.5 31.2L90 31.1L90.5 31.0L91 30.9L91.5 30.9L92 30.8L92.5 30.8L93 30.8L93.5 30.7L94 30.7L94.5 30.7L95 30.6L95.5 30.6L96 30.6L96.5 30.5L97 30.5L97.5 30.5L98 30.5L98.5 30.5L99 30.5L99.5 30.5L100 30.5L101.5 30.7L103 30.9L104.5 31.2L106 31.5L107.5 31.8L109 32.0L110.5 32.0L112 31.8L113.5 31.7L115 31.7L116.5 32.0L118 32.4L119.5 33.0L121 33.7L122.5 34.4L124 34.9L125.5 35.3L127 35.6L128.5 35.7L130 35.6L131.5 35.6L133 35.7L134.5 35.8L136 36.2L137.5 36.7L139 37.4L140.5 38.1L142 38.8L143.5 39.3L145 39.7L146.5 39.9L148 39.9L149.5 39.9L151 39.9L152.5 39.9L154 40.2L155.5 40.6L157 41.2L158.5 42.0L160 42.7L161.5 43.4L163 43.9L164.5 44.2L166 44.4L167.5 44.4L169 44.5L170.5 44.7L172 45.0L173.5 45.4L175 45.9L176.5 46.6L178 47.2L179.5 47.8L181 48.3L182.5 48.8L184 49.2L185.5 49.6L187 50.0L188.5 50.4L190 50.9L191.5 51.4L193 51.9L194.5 52.5L196 53.0L197.5 53.6L199 54.1L200.5 54.6L202 55.2L203.5 55.8L205 56.3L206.5 56.9L208 57.5L209.5 58.1L211 58.8L212.5 59.4L214 60.0L215.5 60.7L217 61.3L218.5 62.0L220 62.7L221.5 63.4L223 64.1L224.5 64.9L226 65.6L227.5 66.4L229 67.2L230.5 68.0L232 68.9L233.5 69.8L235 70.7L236.5 71.7L238 72.7L239.5 73.8L241 74.9L242.5 76.0L244 77.1L245.5 78.3L247 79.6L248.5 80.8L250 82.1L251.5 83.5L253 84.8L254.5 86.2L256 87.6L257.5 89.1L259 90.8L260.5 92.6L262 94.7L263.5 97.1L265 99.5L266.5 102.0L268 104.5L269.5 107.0L271 109.5"/>
<path d="M32.5 34.5L33 33.8L33.5 33.1L34 32.6L34.5 32.3L35 31.9L35.5 31.6L36 31.3L36.5 31.1L37 31.0L37.5 30.9L38 30.9L38.5 30.8L39 30.8L39.5 30.8L40 30.7L40.5 30.7L41 30.7L41.5 30.7L42 30.8L42.5 30.8L43 30.8L43.5 30.8L44 30.8L44.5 30.9L45 30.9L45.5 31.0L46 31.2L46.5 31.4L47 31.7L47.5 32.0L48 32.3L48.5 32.7L49 33.1L49.5 33.5L50 33.9L50.5 34.3L51 33.9L51.5 33.4L52 32.9L52.5 32.2L53 31.6L53.5 31.2L54 31.0L54.5 30.8L55 30.7L55.5 30.6L56 30.6L56.5 30.6L57 30.7L57.5 30.9L58 31.1L58.5 31.3L59 31.5L59.5 31.8L60 32.2L60.5 32.7L61 33.2L61.5 33.8L62 34.5L62.5 35.3L63 36.2L63.5 37.2L64 38.2L64.5 39.2L65 40.3L65.5 41.3L66 42.2L66.5 41.2L67 40.2L67.5 39.0L68 37.9L68.5 37.1L69 36.5L69.5 35.9L70 35.5L70.5 35.2L71 34.9L71.5 34.7L72 34.6L72.5 34.5L73 34.5L73.5 34.5L74 34.6L74.5 34.8L75 35.0L75.5 35.3L76 35.6L76.5 36.0L77 36.5L77.5 37.0L78 37.6L78.5 38.3L79 39.0L79.5 39.7L80 40.5L80.4 41.0L80.5 40.8L81 39.6L81.5 38.6L82 37.8L82.5 36.9L83 36.2L83.5 35.5L84 34.9L84.5 34.3L85 33.8L85.5 33.4L86 33.0L86.5 32.7L87 32.4L87.5 32.2L88 32.0L88.5 31.8L89 31.6L89.5 31.5L90 31.4L90.5 31.3L91 31.2L91.5 31.2L92 31.1L92.5 31.1L93 31.1L93.5 31.0L94 31.0L94.5 31.0L95 31.0L95.5 30.9L96 30.9L96.5 30.9L97 30.9L97.5 30.8L98 30.8L98.5 30.8L99 30.8L99.5 30.8L100 30.8L101.5 30.8L103 30.9L104.5 31.0L106 31.3L107.5 31.8L109 32.3L110.5 32.7L112 33.1L113.5 33.4L115 33.6L116.5 33.6L118 33.6L119.5 33.6L121 33.5L122.5 33.6L124 33.8L125.5 34.1L127 34.5L128.5 35.1L130 35.7L131.5 36.3L133 36.9L134.5 37.4L136 37.9L137.5 38.3L139 38.6L140.5 38.8L142 38.9L143.5 38.9L145 39.0L146.5 39.0L148 39.2L149.5 39.5L151 39.9L152.5 40.4L154 41.0L155.5 41.6L157 42.3L158.5 42.9L160 43.5L161.5 43.9L163 44.2L164.5 44.4L166 44.6L167.5 44.7L169 44.9L170.5 45.1L172 45.4L173.5 45.7L175 46.2L176.5 46.7L178 47.3L179.5 47.9L181 48.5L182.5 49.0L184 49.5L185.5 50.0L187 50.4L188.5 50.9L190 51.3L191.5 51.8L193 52.3L194.5 52.8L196 53.3L197.5 53.9L199 54.4L200.5 55.0L202 55.5L203.5 56.1L205 56.6L206.5 57.2L208 57.8L209.5 58.4L211 59.1L212.5 59.7L214 60.3L215.5 60.9L217 61.6L218.5 62.3L220 63.0L221.5 63.6L223 64.4L224.5 65.1L226 65.8L227.5 66.6L229 67.4L230.5 68.2L232 69.1L233.5 70.0L235 71.0L236.5 71.9L238 73.0L239.5 74.0L241 75.1L242.5 76.2L244 77.3L245.5 78.5L247 79.8L248.5 81.1L250 82.4L251.5 83.7L253 85.0L254.5 86.4L256 87.8L257.5 89.3L259 91.0L260.5 92.8L262 95.0L263.5 97.4L265 99.9L266.5 102.4L268 104.9L269.5 107.5L271 110.1"/>
<path d="M32.5 34.9L33 34.2L33.5 33.5L34 33.0L34.5 32.6L35 32.2L35.5 31.9L36 31.6L36.5 31.4L37 31.3L37.5 31.2L38 31.2L38.5 31.1L39 31.0L39.5 31.0L40 31.0L40.5 31.0L41 31.0L41.5 31.0L42 31.0L42.5 31.0L43 31.0L43.5 31.1L44 31.1L44.5 31.1L45 31.2L45.5 31.2L46 31.4L46.5 31.7L47 32.0L47.5 32.3L48 32.6L48.5 33.0L49 33.4L49.5 33.8L50 34.2L50.5 34.6L51 34.2L51.5 33.7L52 33.2L52.5 32.5L53 31.8L53.5 31.4L54 31.2L54.5 31.0L55 30.9L55.5 30.8L56 30.8L56.5 30.8L57 30.9L57.5 31.1L58 31.3L58.5 31.5L59 31.7L59.5 32.1L60 32.4L60.5 32.9L61 33.4L61.5 34.0L62 34.7L62.5 35.5L63 36.5L63.5 37.5L64 38.6L64.5 39.6L65 40.6L65.5 41.7L66 42.7L66.5 41.7L67 40.6L67.5 39.3L68 38.1L68.5 37.3L69 36.7L69.5 36.1L70 35.7L70.5 35.4L71 35.1L71.5 34.9L72 34.8L72.5 34.7L73 34.7L73.5 34.7L74 34.8L74.5 35.0L75 35.2L75.5 35.5L76 35.9L76.5 36.3L77 36.7L77.5 37.3L78 37.9L78.5 38.5L79 39.3L79.5 40.1L80 40.8L80.4 41.4L80.5 41.1L81 39.9L81.5 38.9L82 38.0L82.5 37.2L83 36.4L83.5 35.7L84 35.1L84.5 34.5L85 34.0L85.5 33.6L86 33.2L86.5 32.9L87 32.6L87.5 32.4L88 32.2L88.5 32.0L89 31.9L89.5 31.7L90 31.6L90.5 31.6L91 31.5L91.5 31.5L92 31.4L92.5 31.4L93 31.4L93.5 31.3L94 31.3L94.5 31.3L95 31.3L95.5 31.2L96 31.2L96.5 31.2L97 31.3L97.5 31.3L98 31.3L98.5 31.3L99 31.4L99.5 31.4L100 31.5L101.5 31.6L103 31.7L104.5 31.8L106 31.9L107.5 32.0L109 32.0L110.5 32.0L112 32.1L113.5 32.2L115 32.4L116.5 32.8L118 33.4L119.5 34.0L121 34.6L122.5 35.1L124 35.6L125.5 36.0L127 36.3L128.5 36.4L130 36.5L131.5 36.6L133 36.6L134.5 36.7L136 36.8L137.5 37.1L139 37.5L140.5 38.0L142 38.5L143.5 39.2L145 39.8L146.5 40.4L148 41.0L149.5 41.4L151 41.7L152.5 41.9L154 42.0L155.5 42.1L157 42.1L158.5 42.2L160 42.4L161.5 42.7L163 43.1L164.5 43.6L166 44.2L167.5 44.9L169 45.5L170.5 46.1L172 46.6L173.5 47.0L175 47.4L176.5 47.7L178 48.0L179.5 48.3L181 48.6L182.5 49.0L184 49.4L185.5 49.9L187 50.4L188.5 51.0L190 51.5L191.5 52.1L193 52.6L194.5 53.1L196 53.6L197.5 54.2L199 54.7L200.5 55.2L202 55.8L203.5 56.4L205 56.9L206.5 57.5L208 58.1L209.5 58.7L211 59.3L212.5 59.9L214 60.6L215.5 61.2L217 61.9L218.5 62.5L220 63.2L221.5 63.9L223 64.6L224.5 65.3L226 66.1L227.5 66.8L229 67.6L230.5 68.4L232 69.3L233.5 70.2L235 71.2L236.5 72.1L238 73.2L239.5 74.2L241 75.3L242.5 76.4L244 77.6L245.5 78.8L247 80.0L248.5 81.3L250 82.6L251.5 83.9L253 85.2L254.5 86.6L256 88.0L257.5 89.5L259 91.2L260.5 93.0L262 95.2L263.5 97.7L265 100.2L266.5 102.8L268 105.4L269.5 108.0L271 110.6"/>
<path d="M32.5 35.3L33 34.5L33.5 33.9L34 33.3L34.5 32.9L35 32.5L35.5 32.2L36 31.9L36.5 31.7L37 31.5L37.5 31.5L38 31.4L38.5 31.3L39 31.3L39.5 31.3L40 31.2L40.5 31.2L41 31.2L41.5 31.2L42 31.2L42.5 31.3L43 31.3L43.5 31.3L44 31.3L44.5 31.3L45 31.4L45.5 31.5L46 31.7L46.5 31.9L47 32.2L47.5 32.5L48 32.9L48.5 33.2L49 33.6L49.5 34.1L50 34.5L50.5 34.8L51 34.5L51.5 34.0L52 33.4L52.5 32.7L53 32.1L53.5 31.6L54 31.4L54.5 31.2L55 31.1L55.5 31.0L56 31.0L56.5 31.0L57 31.1L57.5 31.3L58 31.5L58.5 31.7L59 31.9L59.5 32.2L60 32.6L60.5 33.1L61 33.6L61.5 34.2L62 34.9L62.5 35.7L63 36.7L63.5 37.8L64 38.9L64.5 39.9L65 41.0L65.5 42.1L66 43.1L66.5 42.0L67 40.9L67.5 39.6L68 38.4L68.5 37.6L69 36.9L69.5 36.3L70 35.9L70.5 35.5L71 35.3L71.5 35.1L72 35.0L72.5 34.9L73 34.9L73.5 34.9L74 35.0L74.5 35.2L75 35.4L75.5 35.7L76 36.1L76.5 36.5L77 37.0L77.5 37.5L78 38.2L78.5 38.8L79 39.6L79.5 40.3L80 41.1L80.4 41.7L80.5 41.5L81 40.2L81.5 39.2L82 38.3L82.5 37.4L83 36.6L83.5 35.9L84 35.3L84.5 34.7L85 34.2L85.5 33.8L86 33.5L86.5 33.1L87 32.9L87.5 32.6L88 32.5L88.5 32.3L89 32.1L89.5 32.0L90 31.9L90.5 31.8L91 31.7L91.5 31.7L92 31.7L92.5 31.6L93 31.6L93.5 31.6L94 31.6L94.5 31.6L95 31.5L95.5 31.5L96 31.5L96.5 31.5L97 31.4L97.5 31.4L98 31.4L98.5 31.4L99 31.4L99.5 31.4L100 31.5L101.5 31.6L103 31.8L104.5 32.1L106 32.4L107.5 32.8L109 33.0L110.5 33.2L112 33.1L113.5 33.0L115 33.0L116.5 33.0L118 33.2L119.5 33.6L121 34.1L122.5 34.7L124 35.4L125.5 36.0L127 36.5L128.5 36.9L130 37.2L131.5 37.3L133 37.3L134.5 37.4L136 37.4L137.5 37.5L139 37.7L140.5 38.1L142 38.6L143.5 39.2L145 39.9L146.5 40.6L148 41.2L149.5 41.7L151 42.1L152.5 42.2L154 42.3L155.5 42.3L157 42.3L158.5 42.4L160 42.6L161.5 43.0L163 43.5L164.5 44.1L166 44.8L167.5 45.5L169 46.1L170.5 46.6L172 47.0L173.5 47.3L175 47.5L176.5 47.7L178 48.0L179.5 48.3L181 48.7L182.5 49.2L184 49.7L185.5 50.3L187 50.8L188.5 51.4L190 51.9L191.5 52.4L193 52.9L194.5 53.4L196 53.9L197.5 54.4L199 55.0L200.5 55.5L202 56.1L203.5 56.6L205 57.2L206.5 57.8L208 58.4L209.5 59.0L211 59.6L212.5 60.2L214 60.8L215.5 61.5L217 62.1L218.5 62.8L220 63.4L221.5 64.1L223 64.8L224.5 65.5L226 66.3L227.5 67.0L229 67.8L230.5 68.6L232 69.5L233.5 70.4L235 71.4L236.5 72.3L238 73.4L239.5 74.4L241 75.5L242.5 76.6L244 77.8L245.5 79.0L247 80.2L248.5 81.5L250 82.8L251.5 84.1L253 85.4L254.5 86.7L256 88.2L257.5 89.7L259 91.3L260.5 93.2L262 95.4L263.5 97.9L265 100.5L266.5 103.1L268 105.8L269.5 108.4L271 111.1"/>
<path d="M32.5 35.7L33 34.9L33.5 34.2L34 33.6L34.5 33.2L35 32.8L35.5 32.4L36 32.1L36.5 31.9L37 31.8L37.5 31.7L38 31.6L38.5 31.6L39 31.5L39.5 31.5L40 31.4L40.5 31.4L41 31.4L41.5 31.4L42 31.5L42.5 31.5L43 31.5L43.5 31.5L44 31.5L44.5 31.6L45 31.6L45.5 31.7L46 31.9L46.5 32.2L47 32.5L47.5 32.8L48 33.1L48.5 33.5L49 33.9L49.5 34.3L50 34.7L50.5 35.1L51 34.7L51.5 34.2L52 33.7L52.5 33.0L53 32.3L53.5 31.8L54 31.6L54.5 31.4L55 31.3L55.5 31.2L56 31.2L56.5 31.2L57 31.3L57.5 31.5L58 31.7L58.5 31.9L59 32.1L59.5 32.4L60 32.8L60.5 33.3L61 33.8L61.5 34.4L62 35.1L62.5 36.0L63 36.9L63.5 38.0L64 39.1L64.5 40.2L65 41.3L65.5 42.4L66 43.5L66.5 42.4L67 41.2L67.5 39.8L68 38.6L68.5 37.8L69 37.1L69.5 36.5L70 36.0L70.5 35.7L71 35.5L71.5 35.3L72 35.1L72.5 35.0L73 35.0L73.5 35.1L74 35.2L74.5 35.4L75 35.6L75.5 35.9L76 36.3L76.5 36.7L77 37.2L77.5 37.8L78 38.4L78.5 39.1L79 39.8L79.5 40.6L80 41.4L80.4 42.0L80.5 41.8L81 40.5L81.5 39.4L82 38.5L82.5 37.6L83 36.8L83.5 36.1L84 35.5L84.5 34.9L85 34.4L85.5 34.0L86 33.7L86.5 33.3L87 33.1L87.5 32.8L88 32.7L88.5 32.5L89 32.3L89.5 32.2L90 32.1L90.5 32.0L91 32.0L91.5 31.9L92 31.9L92.5 31.9L93 31.9L93.5 31.8L94 31.8L94.5 31.8L95 31.8L95.5 31.8L96 31.8L96.5 31.8L97 31.8L97.5 31.8L98 31.8L98.5 31.8L99 31.8L99.5 31.9L100 31.9L101.5 32.1L103 32.3L104.5 32.5L106 32.7L107.5 33.0L109 33.2L110.5 33.3L112 33.2L113.5 33.2L115 33.2L116.5 33.3L118 33.5L119.5 33.8L121 34.3L122.5 34.8L124 35.3L125.5 35.9L127 36.5L128.5 37.0L130 37.4L131.5 37.8L133 38.1L134.5 38.3L136 38.4L137.5 38.5L139 38.6L140.5 38.7L142 38.8L143.5 39.0L145 39.4L146.5 39.8L148 40.3L149.5 40.9L151 41.5L152.5 42.1L154 42.7L155.5 43.3L157 43.8L158.5 44.1L160 44.4L161.5 44.6L163 44.7L164.5 44.8L166 44.9L167.5 45.1L169 45.4L170.5 45.8L172 46.2L173.5 46.7L175 47.3L176.5 47.8L178 48.4L179.5 49.0L181 49.5L182.5 50.0L184 50.4L185.5 50.8L187 51.3L188.5 51.7L190 52.1L191.5 52.6L193 53.1L194.5 53.6L196 54.2L197.5 54.7L199 55.2L200.5 55.8L202 56.3L203.5 56.9L205 57.5L206.5 58.0L208 58.6L209.5 59.2L211 59.8L212.5 60.4L214 61.1L215.5 61.7L217 62.3L218.5 63.0L220 63.6L221.5 64.3L223 65.0L224.5 65.7L226 66.5L227.5 67.2L229 68.0L230.5 68.8L232 69.7L233.5 70.6L235 71.5L236.5 72.5L238 73.5L239.5 74.6L241 75.7L242.5 76.8L244 77.9L245.5 79.1L247 80.4L248.5 81.6L250 83.0L251.5 84.3L253 85.6L254.5 86.9L256 88.3L257.5 89.9L259 91.5L260.5 93.4L262 95.7L263.5 98.2L265 100.8L266.5 103.5L268 106.2L269.5 108.9L271 111.6"/>
<path d="M32.5 36.0L33 35.2L33.5 34.5L34 33.9L34.5 33.5L35 33.0L35.5 32.7L36 32.4L36.5 32.1L37 32.0L37.5 31.9L38 31.8L38.5 31.8L39 31.7L39.5 31.7L40 31.7L40.5 31.6L41 31.6L41.5 31.6L42 31.7L42.5 31.7L43 31.7L43.5 31.7L44 31.7L44.5 31.8L45 31.8L45.5 31.9L46 32.1L46.5 32.4L47 32.7L47.5 33.0L48 33.3L48.5 33.7L49 34.1L49.5 34.5L50 35.0L50.5 35.4L51 35.0L51.5 34.5L52 33.9L52.5 33.2L53 32.5L53.5 32.0L54 31.8L54.5 31.6L55 31.5L55.5 31.4L56 31.4L56.5 31.4L57 31.5L57.5 31.7L58 31.8L58.5 32.0L59 32.3L59.5 32.6L60 33.0L60.5 33.4L61 33.9L61.5 34.6L62 35.3L62.5 36.2L63 37.1L63.5 38.3L64 39.4L64.5 40.5L65 41.6L65.5 42.8L66 43.9L66.5 42.7L67 41.5L67.5 40.1L68 38.8L68.5 38.0L69 37.3L69.5 36.7L70 36.2L70.5 35.9L71 35.6L71.5 35.4L72 35.3L72.5 35.2L73 35.2L73.5 35.3L74 35.4L74.5 35.6L75 35.8L75.5 36.1L76 36.5L76.5 36.9L77 37.4L77.5 38.0L78 38.6L78.5 39.3L79 40.1L79.5 40.9L80 41.7L80.4 42.3L80.5 42.0L81 40.7L81.5 39.6L82 38.7L82.5 37.9L83 37.0L83.5 36.3L84 35.7L84.5 35.1L85 34.6L85.5 34.2L86 33.8L86.5 33.5L87 33.3L87.5 33.0L88 32.9L88.5 32.7L89 32.5L89.5 32.4L90 32.3L90.5 32.2L91 32.2L91.5 32.2L92 32.1L92.5 32.1L93 32.1L93.5 32.1L94 32.1L94.5 32.1L95 32.1L95.5 32.1L96 32.1L96.5 32.1L97 32.1L97.5 32.2L98 32.2L98.5 32.2L99 32.2L99.5 32.2L100 32.2L101.5 32.2L103 32.1L104.5 32.0L106 32.1L107.5 32.4L109 32.8L110.5 33.4L112 34.0L113.5 34.6L115 34.9L116.5 35.0L118 34.9L119.5 34.7L121 34.6L122.5 34.7L124 35.0L125.5 35.6L127 36.3L128.5 37.0L130 37.6L131.5 38.1L133 38.2L134.5 38.3L136 38.2L137.5 38.2L139 38.3L140.5 38.6L142 39.2L143.5 39.9L145 40.7L146.5 41.4L148 41.9L149.5 42.2L151 42.2L152.5 42.2L154 42.1L155.5 42.2L157 42.4L158.5 43.0L160 43.7L161.5 44.5L163 45.2L164.5 45.8L166 46.1L167.5 46.2L169 46.3L170.5 46.3L172 46.5L173.5 46.9L175 47.4L176.5 48.1L178 48.7L179.5 49.3L181 49.9L182.5 50.3L184 50.6L185.5 50.9L187 51.3L188.5 51.8L190 52.3L191.5 52.8L193 53.3L194.5 53.9L196 54.4L197.5 54.9L199 55.5L200.5 56.0L202 56.6L203.5 57.1L205 57.7L206.5 58.3L208 58.9L209.5 59.5L211 60.1L212.5 60.7L214 61.3L215.5 61.9L217 62.6L218.5 63.2L220 63.9L221.5 64.5L223 65.2L224.5 65.9L226 66.7L227.5 67.4L229 68.2L230.5 69.0L232 69.9L233.5 70.8L235 71.7L236.5 72.7L238 73.7L239.5 74.8L241 75.9L242.5 77.0L244 78.1L245.5 79.3L247 80.6L248.5 81.8L250 83.1L251.5 84.4L253 85.7L254.5 87.1L256 88.5L257.5 90.0L259 91.7L260.5 93.5L262 95.9L263.5 98.4L265 101.1L266.5 103.8L268 106.5L269.5 109.3L271 112.0"/>
<path d="M32.5 36.4L33 35.5L33.5 34.8L34 34.2L34.5 33.7L35 33.3L35.5 32.9L36 32.6L36.5 32.3L37 32.2L37.5 32.1L38 32.0L38.5 32.0L39 31.9L39.5 31.9L40 31.8L40.5 31.8L41 31.8L41.5 31.8L42 31.8L42.5 31.9L43 31.9L43.5 31.9L44 31.9L44.5 31.9L45 32.0L45.5 32.1L46 32.3L46.5 32.6L47 32.9L47.5 33.2L48 33.5L48.5 33.9L49 34.3L49.5 34.8L50 35.2L50.5 35.6L51 35.2L51.5 34.7L52 34.1L52.5 33.4L53 32.6L53.5 32.2L54 32.0L54.5 31.8L55 31.6L55.5 31.6L56 31.5L56.5 31.6L57 31.7L57.5 31.8L58 32.0L58.5 32.2L59 32.4L59.5 32.8L60 33.1L60.5 33.6L61 34.1L61.5 34.7L62 35.5L62.5 36.4L63 37.4L63.5 38.5L64 39.6L64.5 40.8L65 41.9L65.5 43.1L66 44.2L66.5 43.0L67 41.8L67.5 40.3L68 39.0L68.5 38.2L69 37.4L69.5 36.8L70 36.3L70.5 36.0L71 35.8L71.5 35.6L72 35.4L72.5 35.3L73 35.4L73.5 35.4L74 35.6L74.5 35.7L75 36.0L75.5 36.3L76 36.7L76.5 37.1L77 37.6L77.5 38.2L78 38.8L78.5 39.5L79 40.3L79.5 41.1L80 41.9L80.4 42.6L80.5 42.3L81 41.0L81.5 39.9L82 38.9L82.5 38.0L83 37.2L83.5 36.5L84 35.8L84.5 35.3L85 34.8L85.5 34.4L86 34.0L86.5 33.7L87 33.4L87.5 33.2L88 33.0L88.5 32.9L89 32.7L89.5 32.6L90 32.5L90.5 32.4L91 32.4L91.5 32.4L92 32.4L92.5 32.3L93 32.3L93.5 32.3L94 32.3L94.5 32.3L95 32.3L95.5 32.3L96 32.3L96.5 32.3L97 32.3L97.5 32.3L98 32.3L98.5 32.4L99 32.4L99.5 32.4L100 32.5L101.5 32.6L103 32.8L104.5 33.0L106 33.2L107.5 33.4L109 33.6L110.5 33.7L112 33.7L113.5 33.7L115 33.8L116.5 33.9L118 34.1L119.5 34.5L121 34.9L122.5 35.3L124 35.9L125.5 36.4L127 37.0L128.5 37.4L130 37.9L131.5 38.3L133 38.6L134.5 38.8L136 39.0L137.5 39.1L139 39.2L140.5 39.4L142 39.5L143.5 39.7L145 39.9L146.5 40.3L148 40.7L149.5 41.2L151 41.8L152.5 42.4L154 43.0L155.5 43.6L157 44.1L158.5 44.6L160 45.0L161.5 45.3L163 45.5L164.5 45.7L166 45.9L167.5 46.0L169 46.2L170.5 46.5L172 46.8L173.5 47.2L175 47.7L176.5 48.2L178 48.7L179.5 49.3L181 49.8L182.5 50.3L184 50.8L185.5 51.3L187 51.8L188.5 52.2L190 52.7L191.5 53.1L193 53.6L194.5 54.1L196 54.6L197.5 55.2L199 55.7L200.5 56.3L202 56.8L203.5 57.4L205 57.9L206.5 58.5L208 59.1L209.5 59.7L211 60.3L212.5 60.9L214 61.5L215.5 62.1L217 62.8L218.5 63.4L220 64.1L221.5 64.7L223 65.4L224.5 66.1L226 66.8L227.5 67.6L229 68.4L230.5 69.2L232 70.0L233.5 70.9L235 71.9L236.5 72.9L238 73.9L239.5 75.0L241 76.0L242.5 77.1L244 78.3L245.5 79.5L247 80.7L248.5 82.0L250 83.3L251.5 84.6L253 85.9L254.5 87.2L256 88.6L257.5 90.2L259 91.8L260.5 93.7L262 96.1L263.5 98.7L265 101.4L266.5 104.1L268 106.9L269.5 109.7L271 112.5"/>
<path d="M32.5 36.7L33 35.8L33.5 35.0L34 34.4L34.5 34.0L35 33.5L35.5 33.1L36 32.8L36.5 32.5L37 32.4L37.5 32.3L38 32.2L38.5 32.2L39 32.1L39.5 32.1L40 32.0L40.5 32.0L41 32.0L41.5 32.0L42 32.0L42.5 32.0L43 32.1L43.5 32.1L44 32.1L44.5 32.1L45 32.2L45.5 32.3L46 32.5L46.5 32.8L47 33.1L47.5 33.4L48 33.7L48.5 34.1L49 34.5L49.5 35.0L50 35.4L50.5 35.8L51 35.4L51.5 34.9L52 34.3L52.5 33.6L53 32.8L53.5 32.3L54 32.1L54.5 31.9L55 31.8L55.5 31.7L56 31.7L56.5 31.7L57 31.8L57.5 32.0L58 32.2L58.5 32.4L59 32.6L59.5 32.9L60 33.3L60.5 33.8L61 34.3L61.5 34.9L62 35.7L62.5 36.5L63 37.6L63.5 38.7L64 39.9L64.5 41.0L65 42.2L65.5 43.4L66 44.5L66.5 43.3L67 42.0L67.5 40.6L68 39.2L68.5 38.3L69 37.6L69.5 37.0L70 36.5L70.5 36.1L71 35.9L71.5 35.7L72 35.6L72.5 35.5L73 35.5L73.5 35.6L74 35.7L74.5 35.9L75 36.1L75.5 36.5L76 36.9L76.5 37.3L77 37.8L77.5 38.4L78 39.0L78.5 39.7L79 40.5L79.5 41.4L80 42.2L80.4 42.9L80.5 42.6L81 41.2L81.5 40.1L82 39.1L82.5 38.2L83 37.4L83.5 36.6L84 36.0L84.5 35.4L85 34.9L85.5 34.5L86 34.2L86.5 33.9L87 33.6L87.5 33.4L88 33.2L88.5 33.0L89 32.9L89.5 32.8L90 32.7L90.5 32.6L91 32.6L91.5 32.6L92 32.6L92.5 32.5L93 32.5L93.5 32.5L94 32.5L94.5 32.5L95 32.5L95.5 32.5L96 32.5L96.5 32.5L97 32.4L97.5 32.4L98 32.4L98.5 32.4L99 32.4L99.5 32.4L100 32.5L101.5 32.6L103 32.8L104.5 33.1L106 33.4L107.5 33.8L109 34.0L110.5 34.1L112 34.0L113.5 33.9L115 33.9L116.5 34.2L118 34.6L119.5 35.2L121 35.9L122.5 36.5L124 37.0L125.5 37.3L127 37.4L128.5 37.4L130 37.4L131.5 37.4L133 37.5L134.5 37.8L136 38.3L137.5 38.9L139 39.6L140.5 40.3L142 40.8L143.5 41.2L145 41.4L146.5 41.5L148 41.5L149.5 41.5L151 41.7L152.5 42.0L154 42.5L155.5 43.2L157 43.9L158.5 44.6L160 45.2L161.5 45.5L163 45.7L164.5 45.8L166 45.9L167.5 46.0L169 46.2L170.5 46.6L172 47.2L173.5 47.8L175 48.4L176.5 49.0L178 49.5L179.5 49.9L181 50.3L182.5 50.6L184 50.9L185.5 51.3L187 51.7L188.5 52.2L190 52.8L191.5 53.3L193 53.8L194.5 54.4L196 54.9L197.5 55.4L199 55.9L200.5 56.5L202 57.0L203.5 57.6L205 58.2L206.5 58.7L208 59.3L209.5 59.9L211 60.5L212.5 61.1L214 61.7L215.5 62.3L217 63.0L218.5 63.6L220 64.3L221.5 64.9L223 65.6L224.5 66.3L226 67.0L227.5 67.8L229 68.5L230.5 69.3L232 70.2L233.5 71.1L235 72.1L236.5 73.0L238 74.1L239.5 75.1L241 76.2L242.5 77.3L244 78.5L245.5 79.7L247 80.9L248.5 82.2L250 83.5L251.5 84.8L253 86.1L254.5 87.4L256 88.8L257.5 90.3L259 92.0L260.5 93.9L262 96.2L263.5 98.9L265 101.6L266.5 104.4L268 107.2L269.5 110.1L271 112.9"/>
<path d="M32.5 37.0L33 36.1L33.5 35.3L34 34.7L34.5 34.2L35 33.7L35.5 33.3L36 33.0L36.5 32.7L37 32.6L37.5 32.5L38 32.4L38.5 32.4L39 32.3L39.5 32.2L40 32.2L40.5 32.2L41 32.2L41.5 32.2L42 32.2L42.5 32.2L43 32.2L43.5 32.3L44 32.3L44.5 32.3L45 32.3L45.5 32.4L46 32.6L46.5 32.9L47 33.3L47.5 33.6L48 33.9L48.5 34.3L49 34.7L49.5 35.2L50 35.6L50.5 36.0L51 35.6L51.5 35.1L52 34.5L52.5 33.7L53 33.0L53.5 32.5L54 32.3L54.5 32.1L55 32.0L55.5 31.9L56 31.8L56.5 31.9L57 32.0L57.5 32.1L58 32.3L58.5 32.5L59 32.7L59.5 33.1L60 33.4L60.5 33.9L61 34.4L61.5 35.0L62 35.8L62.5 36.7L63 37.7L63.5 38.9L64 40.1L64.5 41.3L65 42.5L65.5 43.7L66 44.8L66.5 43.6L67 42.3L67.5 40.8L68 39.4L68.5 38.5L69 37.7L69.5 37.1L70 36.6L70.5 36.3L71 36.0L71.5 35.8L72 35.7L72.5 35.6L73 35.6L73.5 35.7L74 35.9L74.5 36.0L75 36.3L75.5 36.6L76 37.0L76.5 37.5L77 38.0L77.5 38.6L78 39.2L78.5 40.0L79 40.8L79.5 41.6L80 42.4L80.4 43.1L80.5 42.8L81 41.4L81.5 40.3L82 39.3L82.5 38.4L83 37.6L83.5 36.8L84 36.2L84.5 35.6L85 35.1L85.5 34.7L86 34.3L86.5 34.0L87 33.8L87.5 33.6L88 33.4L88.5 33.2L89 33.1L89.5 32.9L90 32.9L90.5 32.8L91 32.8L91.5 32.8L92 32.8L92.5 32.7L93 32.7L93.5 32.7L94 32.7L94.5 32.7L95 32.7L95.5 32.7L96 32.7L96.5 32.7L97 32.7L97.5 32.7L98 32.7L98.5 32.7L99 32.7L99.5 32.7L100 32.7L101.5 32.7L103 32.7L104.5 32.8L106 33.0L107.5 33.3L109 33.6L110.5 34.0L112 34.5L113.5 34.9L115 35.4L116.5 35.8L118 36.1L119.5 36.4L121 36.6L122.5 36.8L124 36.9L125.5 37.0L127 37.1L128.5 37.2L130 37.3L131.5 37.5L133 37.8L134.5 38.1L136 38.4L137.5 38.8L139 39.3L140.5 39.8L142 40.4L143.5 41.0L145 41.5L146.5 42.0L148 42.5L149.5 42.9L151 43.3L152.5 43.5L154 43.8L155.5 44.0L157 44.1L158.5 44.3L160 44.4L161.5 44.7L163 44.9L164.5 45.3L166 45.7L167.5 46.1L169 46.6L170.5 47.1L172 47.7L173.5 48.2L175 48.7L176.5 49.2L178 49.7L179.5 50.1L181 50.6L182.5 51.0L184 51.3L185.5 51.7L187 52.1L188.5 52.6L190 53.0L191.5 53.5L193 54.0L194.5 54.6L196 55.1L197.5 55.6L199 56.2L200.5 56.7L202 57.3L203.5 57.8L205 58.4L206.5 59.0L208 59.5L209.5 60.1L211 60.7L212.5 61.3L214 61.9L215.5 62.5L217 63.2L218.5 63.8L220 64.4L221.5 65.1L223 65.8L224.5 66.5L226 67.2L227.5 67.9L229 68.7L230.5 69.5L232 70.4L233.5 71.3L235 72.2L236.5 73.2L238 74.2L239.5 75.3L241 76.4L242.5 77.5L244 78.6L245.5 79.8L247 81.1L248.5 82.3L250 83.6L251.5 84.9L253 86.2L254.5 87.5L256 88.9L257.5 90.4L259 92.1L260.5 94.0L262 96.4L263.5 99.1L265 101.9L266.5 104.7L268 107.6L269.5 110.4L271 113.3"/>
<path d="M32.5 37.3L33 36.4L33.5 35.6L34 34.9L34.5 34.4L35 33.9L35.5 33.5L36 33.2L36.5 32.9L37 32.8L37.5 32.7L38 32.6L38.5 32.5L39 32.5L39.5 32.4L40 32.4L40.5 32.4L41 32.4L41.5 32.4L42 32.4L42.5 32.4L43 32.4L43.5 32.4L44 32.4L44.5 32.5L45 32.5L45.5 32.6L46 32.8L46.5 33.1L47 33.4L47.5 33.8L48 34.1L48.5 34.5L49 34.9L49.5 35.4L50 35.8L50.5 36.2L51 35.8L51.5 35.3L52 34.7L52.5 33.9L53 33.1L53.5 32.6L54 32.4L54.5 32.2L55 32.1L55.5 32.0L56 32.0L56.5 32.0L57 32.1L57.5 32.3L58 32.5L58.5 32.6L59 32.9L59.5 33.2L60 33.6L60.5 34.0L61 34.5L61.5 35.2L62 36.0L62.5 36.9L63 37.9L63.5 39.1L64 40.3L64.5 41.5L65 42.7L65.5 43.9L66 45.1L66.5 43.9L67 42.5L67.5 41.0L68 39.6L68.5 38.7L69 37.9L69.5 37.3L70 36.8L70.5 36.4L71 36.2L71.5 36.0L72 35.8L72.5 35.7L73 35.8L73.5 35.9L74 36.0L74.5 36.2L75 36.4L75.5 36.8L76 37.2L76.5 37.7L77 38.2L77.5 38.8L78 39.4L78.5 40.1L79 41.0L79.5 41.8L80 42.7L80.4 43.4L80.5 43.1L81 41.6L81.5 40.5L82 39.5L82.5 38.6L83 37.7L83.5 37.0L84 36.3L84.5 35.7L85 35.2L85.5 34.8L86 34.5L86.5 34.2L87 33.9L87.5 33.7L88 33.5L88.5 33.4L89 33.2L89.5 33.1L90 33.0L90.5 33.0L91 33.0L91.5 33.0L92 32.9L92.5 32.9L93 32.9L93.5 32.9L94 32.9L94.5 32.9L95 32.9L95.5 32.9L96 32.9L96.5 32.9L97 32.9L97.5 32.9L98 32.9L98.5 32.9L99 32.9L99.5 32.9L100 32.9L101.5 32.9L103 33.1L104.5 33.3L106 33.6L107.5 34.0L109 34.5L110.5 34.9L112 35.2L113.5 35.4L115 35.6L116.5 35.7L118 35.7L119.5 35.8L121 35.8L122.5 36.0L124 36.2L125.5 36.5L127 36.8L128.5 37.3L130 37.8L131.5 38.3L133 38.8L134.5 39.3L136 39.8L137.5 40.2L139 40.5L140.5 40.7L142 41.0L143.5 41.1L145 41.3L146.5 41.4L148 41.6L149.5 41.9L151 42.2L152.5 42.6L154 43.1L155.5 43.7L157 44.2L158.5 44.8L160 45.4L161.5 45.9L163 46.3L164.5 46.6L166 46.9L167.5 47.1L169 47.4L170.5 47.6L172 47.8L173.5 48.2L175 48.5L176.5 48.9L178 49.4L179.5 49.9L181 50.4L182.5 50.9L184 51.4L185.5 51.9L187 52.4L188.5 52.9L190 53.4L191.5 53.8L193 54.3L194.5 54.8L196 55.3L197.5 55.8L199 56.4L200.5 56.9L202 57.5L203.5 58.0L205 58.6L206.5 59.2L208 59.7L209.5 60.3L211 60.9L212.5 61.5L214 62.1L215.5 62.7L217 63.4L218.5 64.0L220 64.6L221.5 65.3L223 65.9L224.5 66.6L226 67.4L227.5 68.1L229 68.9L230.5 69.7L232 70.5L233.5 71.4L235 72.4L236.5 73.4L238 74.4L239.5 75.4L241 76.5L242.5 77.6L244 78.8L245.5 80.0L247 81.2L248.5 82.5L250 83.8L251.5 85.1L253 86.4L254.5 87.7L256 89.1L257.5 90.6L259 92.3L260.5 94.2L262 96.6L263.5 99.3L265 102.1L266.5 105.0L268 107.9L269.5 110.8L271 113.7"/>
<path d="M32.5 37.6L33 36.6L33.5 35.8L34 35.1L34.5 34.6L35 34.1L35.5 33.7L36 33.4L36.5 33.1L37 32.9L37.5 32.9L38 32.8L38.5 32.7L39 32.6L39.5 32.6L40 32.5L40.5 32.5L41 32.5L41.5 32.5L42 32.5L42.5 32.5L43 32.6L43.5 32.6L44 32.6L44.5 32.6L45 32.6L45.5 32.7L46 33.0L46.5 33.3L47 33.6L47.5 33.9L48 34.3L48.5 34.7L49 35.1L49.5 35.5L50 36.0L50.5 36.4L51 36.0L51.5 35.5L52 34.9L52.5 34.1L53 33.3L53.5 32.8L54 32.6L54.5 32.4L55 32.3L55.5 32.2L56 32.1L56.5 32.2L57 32.3L57.5 32.4L58 32.6L58.5 32.8L59 33.0L59.5 33.3L60 33.7L60.5 34.2L61 34.7L61.5 35.3L62 36.1L62.5 37.0L63 38.1L63.5 39.3L64 40.5L64.5 41.7L65 43.0L65.5 44.2L66 45.4L66.5 44.1L67 42.8L67.5 41.2L68 39.7L68.5 38.8L69 38.0L69.5 37.4L70 36.9L70.5 36.5L71 36.3L71.5 36.1L72 35.9L72.5 35.9L73 35.9L73.5 36.0L74 36.2L74.5 36.3L75 36.6L75.5 36.9L76 37.4L76.5 37.8L77 38.3L77.5 38.9L78 39.6L78.5 40.3L79 41.2L79.5 42.0L80 42.9L80.4 43.6L80.5 43.3L81 41.8L81.5 40.6L82 39.7L82.5 38.7L83 37.9L83.5 37.1L84 36.5L84.5 35.9L85 35.4L85.5 35.0L86 34.6L86.5 34.3L87 34.1L87.5 33.9L88 33.7L88.5 33.5L89 33.4L89.5 33.3L90 33.2L90.5 33.2L91 33.1L91.5 33.1L92 33.1L92.5 33.1L93 33.1L93.5 33.1L94 33.1L94.5 33.1L95 33.1L95.5 33.2L96 33.2L96.5 33.2L97 33.2L97.5 33.2L98 33.3L98.5 33.3L99 33.3L99.5 33.4L100 33.4L101.5 33.4L103 33.5L104.5 33.5L106 33.7L107.5 33.9L109 34.0L110.5 34.2L112 34.4L113.5 34.6L115 34.9L116.5 35.3L118 35.7L119.5 36.2L121 36.6L122.5 37.1L124 37.5L125.5 37.8L127 38.1L128.5 38.4L130 38.6L131.5 38.7L133 38.9L134.5 39.1L136 39.3L137.5 39.5L139 39.7L140.5 40.0L142 40.3L143.5 40.7L145 41.2L146.5 41.7L148 42.2L149.5 42.8L151 43.3L152.5 43.8L154 44.3L155.5 44.7L157 45.1L158.5 45.4L160 45.6L161.5 45.8L163 46.0L164.5 46.2L166 46.5L167.5 46.7L169 47.1L170.5 47.5L172 47.9L173.5 48.4L175 48.9L176.5 49.4L178 49.9L179.5 50.4L181 50.9L182.5 51.3L184 51.8L185.5 52.2L187 52.6L188.5 53.1L190 53.5L191.5 54.0L193 54.5L194.5 55.0L196 55.5L197.5 56.0L199 56.6L200.5 57.1L202 57.7L203.5 58.2L205 58.8L206.5 59.4L208 59.9L209.5 60.5L211 61.1L212.5 61.7L214 62.3L215.5 62.9L217 63.5L218.5 64.2L220 64.8L221.5 65.4L223 66.1L224.5 66.8L226 67.5L227.5 68.3L229 69.0L230.5 69.8L232 70.7L233.5 71.6L235 72.5L236.5 73.5L238 74.5L239.5 75.6L241 76.7L242.5 77.8L244 78.9L245.5 80.1L247 81.4L248.5 82.6L250 83.9L251.5 85.2L253 86.5L254.5 87.8L256 89.2L257.5 90.7L259 92.4L260.5 94.3L262 96.8L263.5 99.5L265 102.4L266.5 105.3L268 108.2L269.5 111.1L271 114.1"/>
<path d="M32.5 37.9L33 36.9L33.5 36.0L34 35.3L34.5 34.8L35 34.3L35.5 33.9L36 33.5L36.5 33.3L37 33.1L37.5 33.0L38 32.9L38.5 32.9L39 32.8L39.5 32.7L40 32.7L40.5 32.7L41 32.7L41.5 32.7L42 32.7L42.5 32.7L43 32.7L43.5 32.7L44 32.7L44.5 32.8L45 32.8L45.5 32.9L46 33.1L46.5 33.4L47 33.8L47.5 34.1L48 34.5L48.5 34.9L49 35.3L49.5 35.7L50 36.2L50.5 36.6L51 36.2L51.5 35.6L52 35.0L52.5 34.2L53 33.4L53.5 32.9L54 32.7L54.5 32.5L55 32.4L55.5 32.3L56 32.3L56.5 32.3L57 32.4L57.5 32.5L58 32.7L58.5 32.9L59 33.1L59.5 33.5L60 33.8L60.5 34.3L61 34.8L61.5 35.5L62 36.3L62.5 37.2L63 38.3L63.5 39.5L64 40.7L64.5 41.9L65 43.2L65.5 44.5L66 45.7L66.5 44.4L67 43.0L67.5 41.4L68 39.9L68.5 39.0L69 38.2L69.5 37.5L70 37.0L70.5 36.6L71 36.4L71.5 36.2L72 36.0L72.5 36.0L73 36.0L73.5 36.1L74 36.3L74.5 36.5L75 36.7L75.5 37.1L76 37.5L76.5 38.0L77 38.5L77.5 39.1L78 39.8L78.5 40.5L79 41.3L79.5 42.2L80 43.1L80.4 43.8L80.5 43.5L81 42.0L81.5 40.8L82 39.8L82.5 38.9L83 38.0L83.5 37.2L84 36.6L84.5 36.0L85 35.5L85.5 35.1L86 34.8L86.5 34.5L87 34.2L87.5 34.0L88 33.8L88.5 33.7L89 33.5L89.5 33.4L90 33.3L90.5 33.3L91 33.3L91.5 33.3L92 33.3L92.5 33.3L93 33.3L93.5 33.3L94 33.3L94.5 33.3L95 33.3L95.5 33.3L96 33.3L96.5 33.3L97 33.3L97.5 33.3L98 33.3L98.5 33.3L99 33.3L99.5 33.3L100 33.3L101.5 33.4L103 33.5L104.5 33.8L106 34.2L107.5 34.6L109 34.9L110.5 35.0L112 35.0L113.5 35.0L115 35.1L116.5 35.4L118 35.9L119.5 36.5L121 37.0L122.5 37.5L124 37.7L125.5 37.8L127 37.8L128.5 37.8L130 37.9L131.5 38.2L133 38.6L134.5 39.2L136 39.8L137.5 40.4L139 40.8L140.5 41.1L142 41.3L143.5 41.3L145 41.5L146.5 41.7L148 42.1L149.5 42.7L151 43.4L152.5 44.0L154 44.5L155.5 44.8L157 45.0L158.5 45.1L160 45.2L161.5 45.4L163 45.7L164.5 46.3L166 46.9L167.5 47.5L169 48.0L170.5 48.4L172 48.7L173.5 49.0L175 49.2L176.5 49.5L178 49.9L179.5 50.4L181 50.9L182.5 51.4L184 51.9L185.5 52.4L187 52.8L188.5 53.3L190 53.7L191.5 54.2L193 54.7L194.5 55.2L196 55.7L197.5 56.2L199 56.8L200.5 57.3L202 57.9L203.5 58.4L205 59.0L206.5 59.6L208 60.1L209.5 60.7L211 61.3L212.5 61.9L214 62.5L215.5 63.1L217 63.7L218.5 64.3L220 65.0L221.5 65.6L223 66.3L224.5 67.0L226 67.7L227.5 68.4L229 69.2L230.5 70.0L232 70.8L233.5 71.7L235 72.7L236.5 73.7L238 74.7L239.5 75.7L241 76.8L242.5 77.9L244 79.1L245.5 80.3L247 81.5L248.5 82.8L250 84.1L251.5 85.4L253 86.7L254.5 88.0L256 89.3L257.5 90.8L259 92.5L260.5 94.4L262 96.9L263.5 99.7L265 102.6L266.5 105.6L268 108.5L269.5 111.5L271 114.5"/>
<path d="M32.5 38.1L33 37.1L33.5 36.2L34 35.6L34.5 35.0L35 34.5L35.5 34.1L36 33.7L36.5 33.4L37 33.3L37.5 33.2L38 33.1L38.5 33.0L39 32.9L39.5 32.9L40 32.9L40.5 32.8L41 32.8L41.5 32.8L42 32.8L42.5 32.8L43 32.9L43.5 32.9L44 32.9L44.5 32.9L45 32.9L45.5 33.0L46 33.3L46.5 33.6L47 33.9L47.5 34.3L48 34.6L48.5 35.0L49 35.5L49.5 35.9L50 36.3L50.5 36.8L51 36.3L51.5 35.8L52 35.2L52.5 34.4L53 33.6L53.5 33.0L54 32.8L54.5 32.7L55 32.5L55.5 32.4L56 32.4L56.5 32.4L57 32.5L57.5 32.7L58 32.8L58.5 33.0L59 33.3L59.5 33.6L60 34.0L60.5 34.4L61 34.9L61.5 35.6L62 36.4L62.5 37.3L63 38.4L63.5 39.6L64 40.9L64.5 42.2L65 43.4L65.5 44.7L66 46.0L66.5 44.6L67 43.2L67.5 41.6L68 40.1L68.5 39.1L69 38.3L69.5 37.6L70 37.1L70.5 36.7L71 36.5L71.5 36.3L72 36.2L72.5 36.1L73 36.1L73.5 36.2L74 36.4L74.5 36.6L75 36.9L75.5 37.2L76 37.6L76.5 38.1L77 38.6L77.5 39.3L78 39.9L78.5 40.7L79 41.5L79.5 42.4L80 43.3L80.4 44.0L80.5 43.7L81 42.2L81.5 41.0L82 40.0L82.5 39.0L83 38.1L83.5 37.4L84 36.7L84.5 36.1L85 35.6L85.5 35.3L86 34.9L86.5 34.6L87 34.4L87.5 34.2L88 34.0L88.5 33.8L89 33.7L89.5 33.6L90 33.5L90.5 33.5L91 33.5L91.5 33.5L92 33.5L92.5 33.5L93 33.5L93.5 33.5L94 33.5L94.5 33.5L95 33.5L95.5 33.5L96 33.5L96.5 33.5L97 33.5L97.5 33.5L98 33.5L98.5 33.5L99 33.5L99.5 33.5L100 33.5L101.5 33.6L103 33.7L104.5 33.9L106 34.2L107.5 34.7L109 35.1L110.5 35.4L112 35.7L113.5 35.9L115 36.0L116.5 36.1L118 36.2L119.5 36.3L121 36.5L122.5 36.7L124 37.1L125.5 37.4L127 37.8L128.5 38.3L130 38.7L131.5 39.1L133 39.5L134.5 39.9L136 40.2L137.5 40.5L139 40.7L140.5 40.9L142 41.1L143.5 41.4L145 41.7L146.5 42.0L148 42.4L149.5 42.8L151 43.3L152.5 43.9L154 44.4L155.5 44.9L157 45.4L158.5 45.8L160 46.1L161.5 46.3L163 46.6L164.5 46.8L166 47.0L167.5 47.3L169 47.6L170.5 48.0L172 48.4L173.5 48.9L175 49.4L176.5 49.9L178 50.4L179.5 50.9L181 51.3L182.5 51.8L184 52.2L185.5 52.6L187 53.0L188.5 53.4L190 53.9L191.5 54.4L193 54.9L194.5 55.4L196 55.9L197.5 56.4L199 57.0L200.5 57.5L202 58.1L203.5 58.6L205 59.2L206.5 59.8L208 60.3L209.5 60.9L211 61.5L212.5 62.1L214 62.7L215.5 63.3L217 63.9L218.5 64.5L220 65.1L221.5 65.8L223 66.4L224.5 67.1L226 67.8L227.5 68.6L229 69.3L230.5 70.1L232 70.9L233.5 71.9L235 72.8L236.5 73.8L238 74.8L239.5 75.9L241 77.0L242.5 78.1L244 79.2L245.5 80.4L247 81.7L248.5 82.9L250 84.2L251.5 85.5L253 86.8L254.5 88.1L256 89.5L257.5 91.0L259 92.6L260.5 94.6L262 97.1L263.5 99.9L265 102.8L266.5 105.8L268 108.8L269.5 111.8L271 114.8"/>
<path d="M32.5 38.4L33 37.4L33.5 36.5L34 35.8L34.5 35.2L35 34.7L35.5 34.2L36 33.9L36.5 33.6L37 33.4L37.5 33.3L38 33.2L38.5 33.2L39 33.1L39.5 33.0L40 33.0L40.5 33.0L41 33.0L41.5 33.0L42 33.0L42.5 33.0L43 33.0L43.5 33.0L44 33.0L44.5 33.1L45 33.1L45.5 33.2L46 33.4L46.5 33.7L47 34.1L47.5 34.4L48 34.8L48.5 35.2L49 35.6L49.5 36.1L50 36.5L50.5 37.0L51 36.5L51.5 36.0L52 35.3L52.5 34.5L53 33.7L53.5 33.2L54 33.0L54.5 32.8L55 32.6L55.5 32.6L56 32.5L56.5 32.6L57 32.7L57.5 32.8L58 33.0L58.5 33.2L59 33.4L59.5 33.7L60 34.1L60.5 34.5L61 35.1L61.5 35.7L62 36.5L62.5 37.5L63 38.6L63.5 39.8L64 41.1L64.5 42.4L65 43.6L65.5 44.9L66 46.2L66.5 44.9L67 43.4L67.5 41.7L68 40.2L68.5 39.2L69 38.4L69.5 37.8L70 37.2L70.5 36.9L71 36.6L71.5 36.4L72 36.3L72.5 36.2L73 36.2L73.5 36.4L74 36.5L74.5 36.7L75 37.0L75.5 37.4L76 37.8L76.5 38.3L77 38.8L77.5 39.4L78 40.1L78.5 40.9L79 41.7L79.5 42.6L80 43.5L80.4 44.2L80.5 43.9L81 42.4L81.5 41.2L82 40.1L82.5 39.2L83 38.3L83.5 37.5L84 36.9L84.5 36.3L85 35.8L85.5 35.4L86 35.0L86.5 34.7L87 34.5L87.5 34.3L88 34.1L88.5 34.0L89 33.8L89.5 33.7L90 33.7L90.5 33.6L91 33.6L91.5 33.6L92 33.6L92.5 33.6L93 33.6L93.5 33.7L94 33.7L94.5 33.7L95 33.7L95.5 33.7L96 33.7L96.5 33.7L97 33.7L97.5 33.7L98 33.7L98.5 33.7L99 33.7L99.5 33.8L100 33.8L101.5 33.9L103 34.1L104.5 34.3L106 34.6L107.5 34.9L109 35.2L110.5 35.3L112 35.4L113.5 35.5L115 35.7L116.5 36.0L118 36.4L119.5 36.8L121 37.3L122.5 37.7L124 38.1L125.5 38.3L127 38.4L128.5 38.5L130 38.6L131.5 38.8L133 39.0L134.5 39.4L136 39.8L137.5 40.4L139 40.9L140.5 41.4L142 41.9L143.5 42.2L145 42.5L146.5 42.7L148 42.9L149.5 43.1L151 43.4L152.5 43.7L154 44.2L155.5 44.8L157 45.3L158.5 45.8L160 46.3L161.5 46.6L163 46.8L164.5 47.0L166 47.3L167.5 47.5L169 47.8L170.5 48.3L172 48.8L173.5 49.3L175 49.8L176.5 50.3L178 50.7L179.5 51.1L181 51.5L182.5 51.8L184 52.2L185.5 52.6L187 53.1L188.5 53.6L190 54.1L191.5 54.6L193 55.1L194.5 55.6L196 56.1L197.5 56.6L199 57.2L200.5 57.7L202 58.3L203.5 58.8L205 59.4L206.5 59.9L208 60.5L209.5 61.1L211 61.7L212.5 62.3L214 62.9L215.5 63.5L217 64.1L218.5 64.7L220 65.3L221.5 65.9L223 66.6L224.5 67.3L226 68.0L227.5 68.7L229 69.5L230.5 70.2L232 71.1L233.5 72.0L235 72.9L236.5 73.9L238 75.0L239.5 76.0L241 77.1L242.5 78.2L244 79.4L245.5 80.6L247 81.8L248.5 83.1L250 84.4L251.5 85.7L253 86.9L254.5 88.2L256 89.6L257.5 91.1L259 92.8L260.5 94.7L262 97.3L263.5 100.1L265 103.0L266.5 106.1L268 109.1L269.5 112.1L271 115.2"/>
<path d="M32.5 38.6L33 37.6L33.5 36.7L34 36.0L34.5 35.4L35 34.9L35.5 34.4L36 34.0L36.5 33.7L37 33.6L37.5 33.5L38 33.4L38.5 33.3L39 33.2L39.5 33.2L40 33.1L40.5 33.1L41 33.1L41.5 33.1L42 33.1L42.5 33.1L43 33.1L43.5 33.2L44 33.2L44.5 33.2L45 33.2L45.5 33.3L46 33.6L46.5 33.9L47 34.2L47.5 34.6L48 34.9L48.5 35.3L49 35.8L49.5 36.2L50 36.7L50.5 37.1L51 36.7L51.5 36.1L52 35.5L52.5 34.7L53 33.9L53.5 33.3L54 33.1L54.5 32.9L55 32.8L55.5 32.7L56 32.7L56.5 32.7L57 32.8L57.5 32.9L58 33.1L58.5 33.3L59 33.5L59.5 33.8L60 34.2L60.5 34.7L61 35.2L61.5 35.8L62 36.7L62.5 37.6L63 38.7L63.5 40.0L64 41.3L64.5 42.5L65 43.9L65.5 45.2L66 46.5L66.5 45.1L67 43.6L67.5 41.9L68 40.3L68.5 39.4L69 38.6L69.5 37.9L70 37.3L70.5 37.0L71 36.7L71.5 36.5L72 36.4L72.5 36.3L73 36.3L73.5 36.5L74 36.6L74.5 36.9L75 37.1L75.5 37.5L76 37.9L76.5 38.4L77 38.9L77.5 39.6L78 40.3L78.5 41.0L79 41.9L79.5 42.7L80 43.7L80.4 44.4L80.5 44.1L81 42.6L81.5 41.3L82 40.3L82.5 39.3L83 38.4L83.5 37.6L84 37.0L84.5 36.4L85 35.9L85.5 35.5L86 35.2L86.5 34.9L87 34.6L87.5 34.4L88 34.3L88.5 34.1L89 34.0L89.5 33.8L90 33.8L90.5 33.8L91 33.8L91.5 33.8L92 33.8L92.5 33.8L93 33.8L93.5 33.8L94 33.8L94.5 33.8L95 33.9L95.5 33.9L96 33.9L96.5 33.9L97 33.9L97.5 33.9L98 33.9L98.5 33.9L99 33.9L99.5 33.9L100 34.0L101.5 34.1L103 34.2L104.5 34.4L106 34.7L107.5 35.0L109 35.4L110.5 35.7L112 35.9L113.5 36.1L115 36.2L116.5 36.4L118 36.6L119.5 36.8L121 37.1L122.5 37.4L124 37.8L125.5 38.1L127 38.5L128.5 38.9L130 39.2L131.5 39.5L133 39.8L134.5 40.1L136 40.3L137.5 40.5L139 40.8L140.5 41.1L142 41.4L143.5 41.8L145 42.2L146.5 42.7L148 43.2L149.5 43.7L151 44.2L152.5 44.6L154 45.0L155.5 45.3L157 45.6L158.5 45.8L160 46.0L161.5 46.3L163 46.6L164.5 46.9L166 47.3L167.5 47.8L169 48.2L170.5 48.7L172 49.2L173.5 49.7L175 50.1L176.5 50.5L178 50.9L179.5 51.2L181 51.6L182.5 52.0L184 52.4L185.5 52.8L187 53.3L188.5 53.8L190 54.3L191.5 54.8L193 55.3L194.5 55.8L196 56.3L197.5 56.8L199 57.4L200.5 57.9L202 58.4L203.5 59.0L205 59.6L206.5 60.1L208 60.7L209.5 61.3L211 61.9L212.5 62.5L214 63.0L215.5 63.6L217 64.2L218.5 64.8L220 65.5L221.5 66.1L223 66.7L224.5 67.4L226 68.1L227.5 68.8L229 69.6L230.5 70.4L232 71.2L233.5 72.1L235 73.1L236.5 74.1L238 75.1L239.5 76.2L241 77.2L242.5 78.3L244 79.5L245.5 80.7L247 81.9L248.5 83.2L250 84.5L251.5 85.8L253 87.1L254.5 88.3L256 89.7L257.5 91.2L259 92.9L260.5 94.8L262 97.4L263.5 100.3L265 103.3L266.5 106.3L268 109.4L269.5 112.4L271 115.5"/>
<path d="M32.5 38.8L33 37.8L33.5 36.9L34 36.1L34.5 35.6L35 35.0L35.5 34.6L36 34.2L36.5 33.9L37 33.7L37.5 33.6L38 33.5L38.5 33.4L39 33.4L39.5 33.3L40 33.3L40.5 33.2L41 33.2L41.5 33.2L42 33.2L42.5 33.3L43 33.3L43.5 33.3L44 33.3L44.5 33.3L45 33.3L45.5 33.5L46 33.7L46.5 34.0L47 34.4L47.5 34.7L48 35.1L48.5 35.5L49 35.9L49.5 36.4L50 36.8L50.5 37.3L51 36.8L51.5 36.3L52 35.6L52.5 34.8L53 34.0L53.5 33.4L54 33.2L54.5 33.0L55 32.9L55.5 32.8L56 32.8L56.5 32.8L57 32.9L57.5 33.0L58 33.2L58.5 33.4L59 33.6L59.5 33.9L60 34.3L60.5 34.8L61 35.3L61.5 36.0L62 36.8L62.5 37.7L63 38.9L63.5 40.1L64 41.4L64.5 42.7L65 44.1L65.5 45.4L66 46.7L66.5 45.3L67 43.8L67.5 42.1L68 40.5L68.5 39.5L69 38.7L69.5 38.0L70 37.4L70.5 37.1L71 36.8L71.5 36.6L72 36.5L72.5 36.4L73 36.5L73.5 36.6L74 36.8L74.5 37.0L75 37.2L75.5 37.6L76 38.1L76.5 38.5L77 39.1L77.5 39.7L78 40.4L78.5 41.2L79 42.0L79.5 42.9L80 43.9L80.4 44.6L80.5 44.3L81 42.7L81.5 41.5L82 40.4L82.5 39.5L83 38.5L83.5 37.8L84 37.1L84.5 36.5L85 36.0L85.5 35.6L86 35.3L86.5 35.0L87 34.7L87.5 34.6L88 34.4L88.5 34.2L89 34.1L89.5 34.0L90 33.9L90.5 33.9L91 33.9L91.5 33.9L92 33.9L92.5 34.0L93 34.0L93.5 34.0L94 34.0L94.5 34.0L95 34.0L95.5 34.1L96 34.1L96.5 34.1L97 34.1L97.5 34.1L98 34.2L98.5 34.2L99 34.2L99.5 34.2L100 34.2L101.5 34.3L103 34.3L104.5 34.4L106 34.6L107.5 34.9L109 35.3L110.5 35.7L112 36.1L113.5 36.4L115 36.8L116.5 37.0L118 37.2L119.5 37.3L121 37.5L122.5 37.7L124 37.9L125.5 38.1L127 38.4L128.5 38.8L130 39.2L131.5 39.6L133 39.9L134.5 40.3L136 40.6L137.5 40.9L139 41.2L140.5 41.4L142 41.7L143.5 42.1L145 42.4L146.5 42.9L148 43.4L149.5 43.8L151 44.3L152.5 44.7L154 45.1L155.5 45.4L157 45.7L158.5 45.9L160 46.2L161.5 46.5L163 46.8L164.5 47.2L166 47.7L167.5 48.1L169 48.6L170.5 49.0L172 49.5L173.5 49.9L175 50.2L176.5 50.6L178 50.9L179.5 51.3L181 51.7L182.5 52.1L184 52.6L185.5 53.0L187 53.5L188.5 54.0L190 54.5L191.5 55.0L193 55.5L194.5 56.0L196 56.5L197.5 57.0L199 57.5L200.5 58.1L202 58.6L203.5 59.2L205 59.7L206.5 60.3L208 60.9L209.5 61.5L211 62.0L212.5 62.6L214 63.2L215.5 63.8L217 64.4L218.5 65.0L220 65.6L221.5 66.2L223 66.9L224.5 67.6L226 68.3L227.5 69.0L229 69.7L230.5 70.5L232 71.4L233.5 72.3L235 73.2L236.5 74.2L238 75.2L239.5 76.3L241 77.4L242.5 78.5L244 79.6L245.5 80.8L247 82.1L248.5 83.3L250 84.6L251.5 85.9L253 87.2L254.5 88.5L256 89.8L257.5 91.3L259 93.0L260.5 95.0L262 97.6L263.5 100.5L265 103.5L266.5 106.6L268 109.7L269.5 112.8L271 115.9"/>
<path d="M32.5 39.1L33 38.0L33.5 37.1L34 36.3L34.5 35.7L35 35.2L35.5 34.7L36 34.3L36.5 34.0L37 33.9L37.5 33.8L38 33.7L38.5 33.6L39 33.5L39.5 33.4L40 33.4L40.5 33.4L41 33.4L41.5 33.4L42 33.4L42.5 33.4L43 33.4L43.5 33.4L44 33.4L44.5 33.5L45 33.5L45.5 33.6L46 33.8L46.5 34.1L47 34.5L47.5 34.9L48 35.2L48.5 35.6L49 36.1L49.5 36.5L50 37.0L50.5 37.4L51 37.0L51.5 36.4L52 35.8L52.5 34.9L53 34.1L53.5 33.5L54 33.3L54.5 33.1L55 33.0L55.5 32.9L56 32.9L56.5 32.9L57 33.0L57.5 33.1L58 33.3L58.5 33.5L59 33.7L59.5 34.0L60 34.4L60.5 34.9L61 35.4L61.5 36.1L62 36.9L62.5 37.9L63 39.0L63.5 40.3L64 41.6L64.5 42.9L65 44.3L65.5 45.6L66 47.0L66.5 45.5L67 44.0L67.5 42.2L68 40.6L68.5 39.6L69 38.8L69.5 38.1L70 37.5L70.5 37.2L71 36.9L71.5 36.7L72 36.6L72.5 36.5L73 36.6L73.5 36.7L74 36.9L74.5 37.1L75 37.4L75.5 37.7L76 38.2L76.5 38.7L77 39.2L77.5 39.8L78 40.6L78.5 41.3L79 42.2L79.5 43.1L80 44.0L80.4 44.8L80.5 44.5L81 42.9L81.5 41.6L82 40.6L82.5 39.6L83 38.7L83.5 37.9L84 37.2L84.5 36.6L85 36.1L85.5 35.7L86 35.4L86.5 35.1L87 34.9L87.5 34.7L88 34.5L88.5 34.4L89 34.2L89.5 34.1L90 34.1L90.5 34.1L91 34.1L91.5 34.1L92 34.1L92.5 34.1L93 34.1L93.5 34.1L94 34.2L94.5 34.2L95 34.2L95.5 34.2L96 34.2L96.5 34.2L97 34.3L97.5 34.3L98 34.3L98.5 34.3L99 34.3L99.5 34.3L100 34.4L101.5 34.4L103 34.5L104.5 34.7L106 34.9L107.5 35.3L109 35.7L110.5 36.0L112 36.3L113.5 36.6L115 36.8L116.5 37.1L118 37.3L119.5 37.5L121 37.7L122.5 37.9L124 38.2L125.5 38.4L127 38.6L128.5 38.9L130 39.2L131.5 39.5L133 39.9L134.5 40.3L136 40.7L137.5 41.1L139 41.5L140.5 41.9L142 42.2L143.5 42.6L145 43.0L146.5 43.3L148 43.6L149.5 44.0L151 44.3L152.5 44.6L154 44.9L155.5 45.3L157 45.6L158.5 46.0L160 46.4L161.5 46.8L163 47.2L164.5 47.6L166 48.1L167.5 48.5L169 48.9L170.5 49.2L172 49.6L173.5 50.0L175 50.4L176.5 50.8L178 51.2L179.5 51.6L181 52.0L182.5 52.4L184 52.8L185.5 53.2L187 53.7L188.5 54.2L190 54.6L191.5 55.1L193 55.6L194.5 56.1L196 56.7L197.5 57.2L199 57.7L200.5 58.3L202 58.8L203.5 59.4L205 59.9L206.5 60.5L208 61.1L209.5 61.6L211 62.2L212.5 62.8L214 63.4L215.5 64.0L217 64.6L218.5 65.2L220 65.8L221.5 66.4L223 67.0L224.5 67.7L226 68.4L227.5 69.1L229 69.9L230.5 70.6L232 71.5L233.5 72.4L235 73.3L236.5 74.3L238 75.4L239.5 76.4L241 77.5L242.5 78.6L244 79.8L245.5 81.0L247 82.2L248.5 83.5L250 84.8L251.5 86.1L253 87.3L254.5 88.6L256 89.9L257.5 91.4L259 93.1L260.5 95.1L262 97.7L263.5 100.6L265 103.7L266.5 106.8L268 109.9L269.5 113.1L271 116.2"/>
<path d="M32.5 39.3L33 38.2L33.5 37.2L34 36.5L34.5 35.9L35 35.4L35.5 34.9L36 34.5L36.5 34.2L37 34.0L37.5 33.9L38 33.8L38.5 33.7L39 33.6L39.5 33.6L40 33.5L40.5 33.5L41 33.5L41.5 33.5L42 33.5L42.5 33.5L43 33.5L43.5 33.5L44 33.6L44.5 33.6L45 33.6L45.5 33.7L46 33.9L46.5 34.3L47 34.6L47.5 35.0L48 35.4L48.5 35.8L49 36.2L49.5 36.7L50 37.1L50.5 37.6L51 37.1L51.5 36.6L52 35.9L52.5 35.1L53 34.2L53.5 33.7L54 33.4L54.5 33.3L55 33.1L55.5 33.0L56 33.0L56.5 33.0L57 33.1L57.5 33.3L58 33.4L58.5 33.6L59 33.8L59.5 34.1L60 34.5L60.5 35.0L61 35.5L61.5 36.2L62 37.0L62.5 38.0L63 39.1L63.5 40.4L64 41.8L64.5 43.1L65 44.5L65.5 45.8L66 47.2L66.5 45.7L67 44.2L67.5 42.4L68 40.8L68.5 39.7L69 38.9L69.5 38.2L70 37.6L70.5 37.3L71 37.0L71.5 36.8L72 36.7L72.5 36.6L73 36.7L73.5 36.8L74 37.0L74.5 37.2L75 37.5L75.5 37.9L76 38.3L76.5 38.8L77 39.3L77.5 40.0L78 40.7L78.5 41.5L79 42.3L79.5 43.2L80 44.2L80.4 45.0L80.5 44.7L81 43.1L81.5 41.8L82 40.7L82.5 39.7L83 38.8L83.5 38.0L84 37.3L84.5 36.7L85 36.2L85.5 35.9L86 35.5L86.5 35.2L87 35.0L87.5 34.8L88 34.6L88.5 34.5L89 34.3L89.5 34.2L90 34.2L90.5 34.2L91 34.2L91.5 34.2L92 34.2L92.5 34.2L93 34.3L93.5 34.3L94 34.3L94.5 34.3L95 34.4L95.5 34.4L96 34.4L96.5 34.4L97 34.4L97.5 34.4L98 34.5L98.5 34.5L99 34.5L99.5 34.5L100 34.5L101.5 34.6L103 34.7L104.5 34.9L106 35.1L107.5 35.4L109 35.8L110.5 36.1L112 36.4L113.5 36.6L115 36.9L116.5 37.1L118 37.4L119.5 37.7L121 37.9L122.5 38.2L124 38.5L125.5 38.7L127 39.0L128.5 39.2L130 39.5L131.5 39.8L133 40.1L134.5 40.4L136 40.7L137.5 41.1L139 41.5L140.5 41.9L142 42.3L143.5 42.7L145 43.0L146.5 43.4L148 43.8L149.5 44.2L151 44.5L152.5 44.9L154 45.2L155.5 45.5L157 45.9L158.5 46.3L160 46.7L161.5 47.1L163 47.4L164.5 47.8L166 48.2L167.5 48.6L169 48.9L170.5 49.3L172 49.7L173.5 50.1L175 50.5L176.5 50.9L178 51.3L179.5 51.8L181 52.2L182.5 52.6L184 53.0L185.5 53.4L187 53.9L188.5 54.4L190 54.8L191.5 55.3L193 55.8L194.5 56.3L196 56.8L197.5 57.4L199 57.9L200.5 58.4L202 59.0L203.5 59.5L205 60.1L206.5 60.7L208 61.2L209.5 61.8L211 62.4L212.5 63.0L214 63.5L215.5 64.1L217 64.7L218.5 65.3L220 65.9L221.5 66.5L223 67.2L224.5 67.8L226 68.5L227.5 69.2L229 70.0L230.5 70.8L232 71.6L233.5 72.5L235 73.5L236.5 74.5L238 75.5L239.5 76.5L241 77.6L242.5 78.7L244 79.9L245.5 81.1L247 82.3L248.5 83.6L250 84.9L251.5 86.2L253 87.4L254.5 88.7L256 90.1L257.5 91.6L259 93.2L260.5 95.2L262 97.8L263.5 100.8L265 103.9L266.5 107.0L268 110.2L269.5 113.3L271 116.5"/>
</g></g>
</g>
<g id="ax" style="filter:grayscale(1)">
<path d="M33 100.95L325.6 100.95" class="axb"/>
<path d="M32.5 3.7L32.5 101" class="ax"/>
<path d="M32.5 20.2L35 20.2" class="ax"/>
<text x="30.4" y="23.80" text-anchor="end">5</text>
<path d="M32.5 40.4L35 40.4" class="ax"/>
<text x="30.4" y="44.00" text-anchor="end">0</text>
<path d="M32.5 60.55L35 60.55" class="ax"/>
<text x="32.2" y="64.15" text-anchor="end">−5</text>
<path d="M32.5 80.7L35 80.7" class="ax"/>
<text x="32.2" y="84.30" text-anchor="end">−10</text>
<path d="M32.5 100.9L35 100.9" class="ax"/>
<text x="32.2" y="104.50" text-anchor="end">−15</text>
<text transform="translate(6.2,62.9) rotate(-90)" letter-spacing="0.25">log σ<tspan dy="4.8" dx="-0.3" font-size="6.5">i</tspan></text>
</g>
</defs>
<rect width="334" height="262" fill="#fff"/>
<g>
<use href="#pl"/><path d="M32 4L106.5 4L107.5 4.5L108 4.5" class="b"/><path d="M56 3.6L56 100.6" class="r"/><path d="M104 3.6L104 100.6" class="r"/><path d="M188 3.6L188 100.6" class="r"/><use href="#ax"/>
</g>
<g transform="translate(0,135)">
<use href="#pl"/><path d="M32 4L82.5 4L83.5 4.5L108 4.5" class="b"/><path d="M98 3.6L98 100.6" class="r"/><path d="M125 3.6L125 100.6" class="r"/><path d="M146 3.6L146 100.6" class="r"/><path d="M163.5 3.6L163.5 100.6" class="r"/><use href="#ax"/>
<path d="M97.5 100.9L97.5 97.4" class="ax"/><path d="M162.6 100.9L162.6 97.4" class="ax"/><path d="M227.6 100.9L227.6 97.4" class="ax"/><path d="M292.7 100.9L292.7 97.4" class="ax"/><g style="filter:grayscale(1)"><text x="32.9" y="112.1" text-anchor="middle">0</text><text x="97.9" y="112.1" text-anchor="middle">500</text><text x="163.0" y="112.1" text-anchor="middle">1000</text><text x="228.0" y="112.1" text-anchor="middle">1500</text><text x="293.1" y="112.1" text-anchor="middle">2000</text>
<text x="178" y="122.5" text-anchor="middle">λ</text></g>
</g>
</svg>
</body></html>
